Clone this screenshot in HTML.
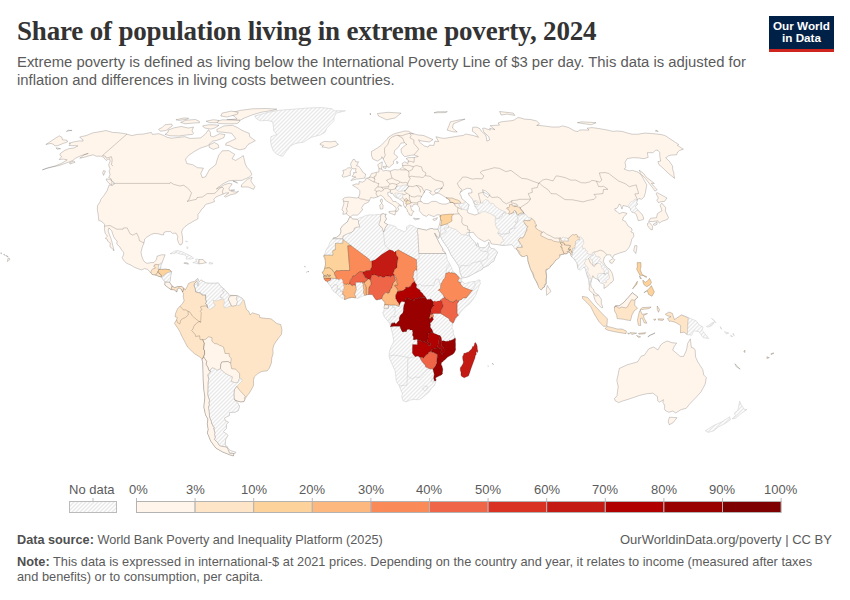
<!DOCTYPE html>
<html><head><meta charset="utf-8">
<style>
html,body{margin:0;padding:0;background:#fff;width:850px;height:600px;overflow:hidden;}
body{position:relative;font-family:"Liberation Sans",sans-serif;}
.t{position:absolute;white-space:nowrap;}
#title{left:17px;top:16px;font-family:"Liberation Serif",serif;font-weight:bold;font-size:27px;color:#333;letter-spacing:-0.18px;}
#sub{left:17px;top:54px;font-size:14.85px;color:#5b5b5b;line-height:17.8px;}
#logo{position:absolute;left:769px;top:16px;width:65px;height:33px;background:#002147;border-bottom:3px solid #ce261e;color:#fff;font-weight:bold;font-size:11.7px;line-height:12.3px;text-align:center;}
#logo div{padding-top:4px;letter-spacing:0px}
.lg{position:absolute;font-size:13px;color:#5b5b5b;margin-top:-0.7px}
#foot1{left:17px;top:533px;font-size:12.7px;color:#5b5b5b;}
#foot2{left:17px;top:553.5px;font-size:12.8px;color:#5b5b5b;line-height:15.5px;}
b{color:#4f4f4f}
</style></head><body>
<div class="t" id="title">Share of population living in extreme poverty, 2024</div>
<div class="t" id="sub">Extreme poverty is defined as living below the International Poverty Line of $3 per day. This data is adjusted for<br>inflation and differences in living costs between countries.</div>
<div id="logo"><div>Our World<br>in Data</div></div>
<svg id="map" width="850" height="600" style="position:absolute;left:0;top:0">
<defs><pattern id="hatch" patternUnits="userSpaceOnUse" width="4" height="4"><rect width="4" height="4" fill="#fff"/><path d="M-1,1 L1,-1 M0,4 L4,0 M3,5 L5,3" stroke="#e9e9e9" stroke-width="1.4"/></pattern></defs>
<path d="M68.9,143.2 L74.2,141.8 L79.5,140.9 L83.0,141.1 L83.1,139.8 L81.2,138.7 L79.7,137.0 L86.4,135.5 L92.7,132.9 L100.6,131.6 L105.8,130.5 L109.1,131.4 L112.5,132.4 L117.9,132.7 L122.8,133.3 L126.9,134.1 L131.7,135.6 L137.3,134.4 L143.7,134.0 L148.0,133.1 L151.3,132.4 L152.4,134.4 L158.9,133.7 L163.8,135.5 L167.1,137.3 L171.4,138.2 L179.0,137.3 L184.7,136.7 L189.9,138.4 L196.1,138.2 L200.7,137.8 L205.1,134.4 L208.5,129.7 L210.3,132.2 L210.6,136.0 L213.3,136.9 L219.8,133.7 L225.0,134.6 L223.7,137.8 L216.6,140.5 L212.7,141.1 L207.7,145.7 L200.7,148.0 L195.0,151.1 L189.0,155.1 L185.5,159.1 L186.7,163.5 L192.6,164.7 L197.5,167.7 L203.4,168.1 L200.8,173.6 L202.2,177.6 L205.5,176.9 L209.4,169.6 L215.8,164.7 L217.1,159.9 L218.8,155.1 L222.3,150.8 L228.7,150.6 L232.1,152.7 L234.8,154.4 L232.1,158.7 L235.6,160.4 L240.7,157.4 L243.3,155.5 L244.3,159.9 L245.3,164.0 L246.9,167.2 L250.3,170.9 L251.9,174.6 L249.1,177.1 L242.0,180.4 L233.9,180.4 L228.7,180.9 L223.8,183.4 L218.4,187.2 L216.3,189.0 L220.4,187.2 L224.4,184.7 L229.0,183.2 L232.1,183.9 L230.3,186.5 L228.9,188.0 L229.4,190.3 L232.3,191.6 L236.3,192.1 L238.6,191.3 L235.8,193.6 L230.2,194.9 L225.4,197.2 L224.4,196.2 L228.8,192.8 L225.6,193.1 L223.2,194.1 L219.7,195.4 L216.0,197.0 L213.8,199.3 L214.6,201.6 L211.0,202.9 L206.3,204.2 L204.9,205.2 L204.1,207.0 L201.5,209.4 L200.2,211.7 L198.0,214.3 L198.0,217.5 L197.7,219.0 L194.5,220.6 L191.4,222.4 L188.4,224.2 L184.9,226.6 L182.5,229.5 L181.6,232.1 L182.5,236.8 L182.7,241.7 L182.0,244.1 L180.0,245.1 L178.6,242.8 L177.3,239.1 L177.8,236.5 L176.0,233.1 L172.6,233.4 L170.4,231.6 L166.0,231.6 L163.9,232.6 L163.6,234.9 L161.2,234.7 L158.7,233.9 L154.4,233.4 L151.3,234.4 L146.9,237.0 L144.7,239.1 L144.0,243.0 L142.3,247.0 L141.0,252.2 L141.6,255.6 L143.2,260.0 L144.8,262.1 L147.1,263.4 L150.9,262.6 L153.8,262.6 L156.2,260.0 L157.2,256.1 L161.7,254.8 L165.1,254.8 L163.6,258.7 L162.0,262.9 L160.8,265.2 L160.6,268.4 L158.9,269.4 L161.4,269.4 L165.6,269.2 L169.4,269.7 L171.7,271.8 L170.7,275.7 L170.4,279.6 L169.5,282.2 L171.1,284.8 L174.4,287.7 L177.9,286.7 L181.4,286.4 L183.8,288.2 L182.5,291.9 L181.5,289.5 L179.0,287.7 L177.1,289.3 L176.8,291.9 L174.3,289.8 L171.1,289.5 L169.5,288.5 L164.9,285.1 L165.1,282.0 L162.8,279.1 L161.2,277.0 L158.5,276.2 L155.6,274.9 L152.6,274.6 L150.9,273.1 L147.5,269.4 L144.6,268.6 L141.4,269.9 L137.1,268.4 L134.1,267.1 L130.7,265.0 L126.4,263.2 L123.4,260.0 L122.2,257.7 L123.6,254.8 L123.6,252.2 L121.9,250.4 L119.4,246.4 L116.8,244.1 L117.1,241.2 L115.0,238.9 L113.6,236.5 L112.7,233.9 L111.7,230.8 L108.9,227.9 L108.2,231.3 L109.8,235.5 L110.9,238.3 L112.1,242.3 L112.9,246.2 L113.5,248.0 L113.9,250.9 L113.4,249.6 L109.9,246.7 L110.3,243.0 L107.7,241.2 L107.1,239.1 L105.3,238.3 L107.4,236.3 L105.1,233.1 L104.4,228.7 L104.5,226.1 L104.6,224.5 L102.9,222.4 L101.0,221.1 L98.8,220.6 L98.4,216.9 L98.0,213.0 L97.6,211.7 L97.3,208.6 L97.6,205.5 L100.0,201.9 L100.9,199.3 L104.4,194.9 L107.1,190.6 L109.2,184.9 L112.3,185.5 L114.3,183.9 L113.6,183.4 L113.8,182.1 L111.6,180.9 L111.2,178.9 L108.7,177.6 L110.1,174.6 L109.1,170.9 L110.1,168.9 L109.3,167.2 L108.7,164.7 L110.1,161.1 L109.6,158.7 L106.1,160.4 L105.2,159.4 L103.5,157.2 L100.8,156.2 L96.2,156.2 L93.1,154.8 L87.8,156.2 L83.8,157.4 L79.7,158.2 L84.6,154.6 L88.3,153.4 L81.3,155.5 L75.6,158.2 L72.6,160.6 L66.9,162.8 L59.2,165.5 L51.6,167.2 L46.1,168.6 L42.3,169.9 L48.1,167.7 L54.9,166.0 L61.2,163.5 L67.2,159.9 L63.4,159.1 L59.1,159.6 L61.7,156.5 L59.8,155.1 L60.7,153.2 L64.8,150.4 L68.7,148.7 L74.0,148.0 L77.9,145.9 L75.1,145.7 L71.6,145.7 L68.9,145.4 L70.5,143.8Z" fill="#fff5eb" stroke="rgba(0,0,0,0.36)" stroke-width="0.5"/>
<path d="M183.8,288.2 L185.2,290.1 L187.1,286.7 L188.5,283.5 L190.9,282.2 L194.4,281.4 L197.6,278.4 L198.6,280.1 L197.3,282.5 L197.3,286.1 L198.7,285.6 L198.9,282.2 L200.9,279.9 L202.5,280.9 L205.8,283.0 L209.2,283.3 L215.0,283.3 L218.4,283.0 L219.5,284.8 L221.7,287.4 L223.9,288.8 L227.3,292.7 L229.5,295.3 L235.3,295.5 L238.0,296.1 L242.1,298.2 L244.2,300.8 L245.5,306.2 L246.6,309.6 L248.9,311.5 L250.1,314.9 L252.4,312.8 L259.4,314.9 L259.8,317.5 L265.2,318.3 L271.0,318.8 L273.3,320.6 L276.8,323.5 L280.7,324.5 L282.0,329.8 L281.4,334.5 L278.3,338.4 L276.1,341.5 L273.9,344.9 L272.9,348.8 L273.1,353.5 L271.8,358.0 L271.4,362.9 L269.4,368.1 L267.3,370.8 L261.7,371.5 L257.8,373.6 L254.3,377.0 L253.5,380.2 L253.5,385.6 L251.3,389.8 L249.2,393.2 L247.1,395.8 L245.0,399.0 L243.9,401.6 L240.3,401.8 L237.7,401.1 L234.5,400.0 L237.7,403.1 L239.4,406.0 L238.4,410.4 L235.7,412.0 L229.4,412.5 L229.4,415.4 L224.4,418.0 L225.3,420.8 L228.4,422.1 L226.3,424.4 L226.4,428.3 L223.4,431.6 L228.0,435.3 L225.7,439.2 L225.0,445.0 L227.5,446.9 L227.2,447.5 L230.2,450.5 L236.1,452.5 L233.8,453.5 L233.4,455.9 L229.5,454.7 L222.4,451.8 L215.8,448.0 L210.7,441.0 L208.7,435.9 L207.3,432.9 L208.3,429.6 L207.3,423.9 L207.9,419.2 L205.6,414.9 L203.9,407.0 L204.5,401.1 L204.9,397.1 L203.8,389.0 L203.3,381.5 L203.1,372.6 L202.8,363.7 L202.1,359.3 L199.6,356.9 L194.2,353.5 L187.5,347.0 L185.1,342.3 L181.1,334.7 L180.1,332.1 L177.6,327.9 L174.4,323.2 L176.4,320.1 L177.3,317.5 L175.0,316.7 L175.6,313.4 L177.2,309.6 L177.9,308.3 L180.0,306.2 L182.2,303.9 L184.1,300.8 L183.2,296.6 L183.6,294.0 L182.5,292.1Z" fill="#fee5c7" stroke="rgba(0,0,0,0.36)" stroke-width="0.5"/>
<path d="M349.5,217.5 L350.8,217.2 L352.7,219.0 L357.5,219.3 L359.7,217.7 L362.3,217.2 L365.5,215.6 L368.8,214.9 L373.1,214.9 L379.2,214.5 L380.9,214.5 L383.4,213.6 L384.6,214.3 L386.2,214.2 L385.1,216.2 L386.0,218.0 L386.5,219.0 L384.8,221.4 L384.4,222.7 L386.7,224.0 L387.5,224.4 L390.9,225.0 L395.8,226.6 L396.5,228.7 L401.0,230.2 L404.2,231.8 L406.8,230.0 L406.4,226.9 L409.6,225.0 L412.9,225.8 L415.2,227.4 L417.8,228.4 L423.1,229.5 L426.5,230.2 L428.6,229.2 L431.9,228.4 L433.7,229.2 L437.9,229.2 L439.9,233.9 L439.1,237.0 L438.7,238.3 L437.3,237.0 L434.7,232.9 L434.9,234.4 L436.4,237.3 L438.3,241.2 L440.4,245.1 L442.6,248.5 L445.8,253.5 L446.7,256.1 L447.1,259.8 L449.8,263.9 L451.2,267.1 L452.2,269.4 L453.2,271.5 L456.1,273.9 L458.0,275.7 L460.4,278.0 L461.8,278.6 L461.8,279.9 L460.7,280.9 L462.1,281.4 L465.0,283.8 L467.7,282.7 L471.6,281.7 L475.5,281.4 L478.4,279.9 L480.2,280.1 L479.9,282.2 L480.6,283.8 L479.5,284.8 L477.8,289.8 L475.7,295.3 L473.2,299.2 L470.0,303.4 L467.1,305.7 L464.1,308.1 L460.6,312.0 L458.5,315.4 L456.9,317.0 L455.0,319.6 L454.1,321.7 L452.9,323.2 L451.9,327.9 L453.4,330.5 L453.1,333.1 L455.3,338.4 L455.3,343.6 L455.4,348.0 L455.5,350.1 L453.7,353.5 L447.6,357.2 L444.7,360.0 L441.4,362.7 L442.1,366.3 L442.6,368.9 L442.4,373.1 L441.2,375.2 L436.5,377.3 L435.5,378.9 L436.0,381.2 L434.6,385.4 L431.9,387.7 L428.6,392.4 L425.1,395.3 L421.5,398.4 L418.6,399.7 L413.8,399.5 L410.4,400.0 L406.0,401.8 L402.8,400.5 L402.6,399.5 L401.7,396.4 L402.5,393.7 L400.7,389.8 L399.1,385.6 L396.3,381.5 L395.8,376.2 L395.1,370.8 L392.7,365.5 L389.6,358.7 L389.1,356.0 L389.3,352.2 L390.7,347.5 L393.8,341.5 L392.7,334.5 L390.7,326.9 L390.5,326.1 L389.8,323.7 L387.9,321.1 L384.5,317.2 L382.7,313.0 L383.8,310.9 L384.3,308.3 L385.0,305.2 L385.2,303.1 L384.7,300.5 L381.9,298.9 L378.5,299.5 L376.2,299.7 L373.8,296.6 L372.4,294.5 L368.5,294.2 L366.0,294.8 L365.1,295.0 L361.1,296.8 L357.7,298.4 L355.1,297.6 L351.9,297.4 L348.4,298.4 L345.0,299.5 L341.5,297.9 L337.4,294.5 L335.7,292.9 L333.4,291.4 L331.6,288.8 L331.6,287.4 L330.7,286.1 L328.5,283.3 L327.5,282.2 L326.4,280.7 L323.9,278.7 L323.7,276.5 L323.9,274.9 L322.9,273.1 L322.2,272.6 L323.6,270.7 L324.6,268.6 L325.5,265.2 L325.8,262.6 L325.4,260.0 L324.8,258.7 L323.6,256.6 L325.4,252.2 L326.4,249.1 L328.5,246.4 L329.7,242.8 L332.6,238.9 L333.5,238.0 L336.6,237.3 L340.0,234.7 L341.0,231.6 L340.6,228.7 L342.5,225.8 L345.6,223.2 L347.4,221.9 L348.5,219.5Z" fill="url(#hatch)" stroke="#c9c9c9" stroke-width="0.5"/>
<path d="M350.1,216.9 L348.6,215.6 L346.3,213.8 L342.8,214.3 L343.4,211.2 L341.9,209.9 L343.4,205.2 L343.9,203.4 L343.5,201.1 L342.8,199.0 L344.7,197.7 L347.7,197.2 L350.4,197.2 L356.2,198.0 L358.5,197.7 L359.8,193.6 L359.8,190.6 L357.8,188.5 L352.5,185.2 L356.2,183.9 L359.0,184.2 L359.1,181.6 L362.7,182.1 L365.3,180.4 L365.9,178.4 L367.3,178.1 L369.4,177.4 L371.5,173.6 L375.8,172.4 L378.9,171.9 L378.9,168.4 L377.7,164.7 L380.3,163.0 L382.3,161.8 L382.0,165.5 L381.6,168.4 L382.1,169.9 L383.5,170.9 L385.8,170.4 L390.2,171.1 L394.3,169.6 L398.4,169.9 L401.0,168.6 L402.8,166.7 L402.2,163.5 L404.7,161.8 L408.0,163.5 L408.3,160.4 L406.1,158.7 L408.2,157.7 L414.3,157.4 L418.3,156.5 L414.7,155.1 L411.9,155.1 L408.4,155.8 L404.9,156.7 L403.3,155.3 L401.4,152.7 L401.0,149.0 L405.5,145.0 L406.9,144.5 L404.5,142.7 L400.9,143.2 L398.4,147.3 L394.7,150.4 L394.0,153.9 L397.2,156.2 L397.4,157.9 L393.3,161.1 L393.6,163.5 L391.0,165.7 L389.2,167.4 L387.3,166.9 L386.1,164.7 L384.7,161.8 L383.2,159.1 L381.9,156.7 L381.3,158.7 L377.3,161.1 L372.7,158.9 L371.5,155.3 L371.4,151.5 L374.0,150.1 L376.6,148.5 L380.8,145.7 L384.0,142.3 L387.0,139.3 L388.6,137.1 L391.7,135.1 L393.8,134.0 L397.1,132.9 L401.1,132.0 L404.6,131.0 L408.3,131.2 L412.2,133.3 L417.6,134.9 L423.7,135.5 L433.0,139.6 L429.2,142.0 L421.0,140.9 L418.6,139.8 L419.7,142.3 L424.2,145.9 L428.1,147.1 L429.3,145.2 L433.8,145.4 L434.9,141.1 L438.6,141.6 L435.9,136.7 L440.5,137.8 L444.2,138.4 L452.1,137.1 L460.0,135.8 L463.2,135.5 L465.7,134.0 L473.3,135.5 L478.5,137.3 L475.4,133.3 L472.3,131.2 L472.8,127.2 L476.8,127.2 L479.8,128.6 L481.3,131.2 L485.2,134.4 L486.5,137.8 L486.8,141.1 L489.6,140.0 L488.8,136.7 L486.1,134.4 L483.6,131.6 L482.6,128.4 L483.9,128.0 L487.1,129.1 L490.4,130.1 L489.7,128.2 L494.9,129.7 L490.2,125.7 L495.3,125.3 L499.5,125.1 L498.0,123.0 L501.4,121.8 L508.2,121.0 L512.4,120.6 L514.5,119.8 L518.0,117.5 L521.3,118.1 L524.1,119.1 L530.7,119.5 L536.7,121.0 L539.5,123.8 L536.7,125.5 L539.8,125.5 L543.5,125.9 L551.9,127.0 L559.1,127.0 L562.6,125.9 L568.4,127.4 L574.4,130.8 L577.9,131.6 L579.3,130.1 L582.3,129.9 L589.1,130.1 L587.2,128.2 L592.0,127.6 L598.0,128.4 L606.7,129.9 L613.0,131.4 L616.5,131.0 L622.1,131.4 L628.4,133.3 L632.1,134.2 L637.9,134.2 L642.0,133.5 L645.5,133.1 L652.0,133.5 L656.8,134.0 L661.2,134.6 L665.0,135.5 L678.7,144.5 L677.4,145.4 L683.4,149.2 L679.6,150.4 L677.6,152.2 L676.5,154.8 L671.3,155.1 L668.5,155.8 L667.1,157.0 L665.7,157.7 L669.6,161.6 L670.8,163.5 L672.6,166.0 L672.7,169.6 L673.9,172.9 L673.9,174.9 L674.6,178.4 L669.0,173.9 L663.3,168.4 L659.0,164.7 L657.9,161.6 L660.6,161.1 L659.8,156.2 L659.7,152.5 L658.0,150.4 L655.9,150.1 L653.7,152.0 L652.8,152.7 L647.3,152.7 L648.2,157.4 L643.9,158.7 L638.5,157.9 L632.7,157.7 L627.1,158.7 L625.0,162.3 L625.9,167.2 L624.2,169.1 L629.1,170.9 L632.6,170.4 L638.0,172.1 L641.8,175.9 L644.5,180.9 L646.8,184.7 L646.1,188.8 L645.5,192.3 L644.2,196.7 L641.6,199.3 L638.8,198.5 L637.1,200.3 L636.6,202.7 L637.5,204.2 L635.3,206.5 L634.5,207.0 L638.4,210.7 L642.1,214.3 L643.3,216.9 L643.6,219.3 L640.7,220.3 L638.2,220.6 L637.6,218.2 L636.2,214.3 L633.8,212.5 L632.3,212.5 L630.7,210.4 L630.1,207.8 L627.4,206.5 L623.0,205.5 L622.0,209.1 L620.3,204.5 L619.1,204.2 L618.2,206.5 L616.9,208.3 L614.9,208.6 L615.0,210.4 L617.3,211.7 L619.3,213.8 L622.5,212.3 L626.9,213.3 L626.2,214.6 L623.6,216.9 L622.5,220.1 L625.4,221.4 L628.2,226.1 L631.4,228.2 L632.2,230.2 L630.8,231.8 L633.4,232.9 L633.8,236.5 L631.8,239.1 L630.9,243.0 L629.5,246.7 L627.6,249.3 L625.7,251.1 L620.7,252.7 L618.2,253.5 L613.9,255.1 L612.6,257.9 L610.9,256.1 L610.5,254.8 L607.1,254.8 L604.5,256.9 L603.2,261.3 L605.3,265.2 L608.1,268.4 L609.8,269.2 L612.1,273.1 L612.9,275.7 L613.6,280.1 L612.0,282.2 L609.8,283.5 L607.7,286.1 L603.9,288.5 L604.2,284.8 L602.9,283.5 L599.2,280.9 L597.4,279.1 L594.3,278.0 L592.9,275.7 L592.0,278.3 L590.7,283.5 L591.1,286.9 L593.3,289.0 L594.2,291.6 L595.4,293.2 L598.3,294.8 L601.3,299.2 L601.4,303.6 L602.9,307.6 L601.5,307.6 L598.7,305.2 L595.3,301.0 L594.0,296.8 L593.4,294.0 L589.2,290.1 L589.3,286.1 L589.3,284.0 L588.7,279.6 L587.2,275.7 L586.5,273.1 L585.4,267.9 L582.1,267.1 L579.7,269.7 L577.8,267.9 L576.9,262.6 L575.0,260.0 L572.3,257.4 L571.4,255.6 L570.1,252.7 L568.2,252.2 L567.2,253.5 L563.9,254.0 L561.7,254.5 L559.5,256.6 L555.6,260.0 L552.3,264.7 L548.6,268.4 L546.1,270.5 L546.6,276.7 L546.1,284.0 L544.4,286.7 L541.1,289.8 L537.8,284.8 L535.9,280.9 L534.1,277.5 L531.9,272.3 L529.7,266.6 L528.0,261.3 L527.8,257.4 L526.8,254.8 L526.4,252.7 L524.5,256.1 L521.1,256.1 L518.4,252.4 L517.0,249.6 L513.2,246.2 L511.9,244.6 L507.4,244.9 L502.5,245.4 L497.2,244.6 L492.7,244.1 L491.0,243.6 L490.0,240.4 L488.3,239.9 L484.5,241.7 L478.5,238.3 L475.5,235.2 L473.3,232.3 L468.9,232.6 L469.2,235.2 L470.8,237.8 L473.2,240.4 L475.0,242.5 L476.7,246.2 L477.5,242.8 L478.4,245.1 L478.6,247.0 L481.8,248.0 L485.2,247.7 L488.2,244.4 L488.8,242.3 L489.1,245.9 L490.9,248.3 L494.6,249.3 L497.6,252.2 L495.1,257.4 L493.6,261.3 L491.7,262.1 L488.9,265.0 L485.6,266.6 L482.3,268.1 L481.3,269.7 L474.6,273.1 L470.1,275.7 L465.6,277.5 L462.2,277.8 L460.2,273.1 L460.0,270.5 L459.1,266.6 L455.6,261.3 L451.9,256.1 L451.1,254.8 L448.0,248.3 L446.1,245.7 L444.3,243.0 L441.7,239.1 L440.0,233.9 L437.9,229.2 L439.1,226.1 L440.0,222.2 L440.5,218.5 L440.2,214.9 L436.9,214.9 L433.9,216.7 L428.7,214.6 L426.3,216.4 L422.9,214.9 L421.2,213.0 L419.2,210.4 L419.6,207.8 L418.2,206.5 L417.5,204.5 L415.3,204.2 L413.3,204.7 L412.4,206.5 L410.4,205.7 L411.1,208.3 L411.7,210.4 L413.9,211.2 L412.4,213.3 L411.7,215.6 L409.2,214.9 L408.9,213.0 L407.7,212.0 L406.9,209.1 L405.0,207.3 L403.6,205.2 L403.5,202.7 L402.4,201.4 L399.9,199.3 L397.9,198.3 L395.5,197.2 L393.5,194.9 L392.3,193.1 L390.9,193.9 L390.6,191.8 L387.7,192.6 L388.1,195.7 L390.5,197.2 L392.9,201.4 L396.1,201.6 L398.1,203.7 L400.6,205.0 L401.7,206.3 L398.9,205.5 L397.8,207.6 L398.9,209.1 L396.7,212.0 L395.8,211.2 L396.1,207.8 L392.4,204.5 L388.3,202.1 L385.4,200.1 L383.8,197.5 L380.8,195.2 L377.5,197.0 L373.6,198.0 L370.7,197.5 L369.0,201.6 L366.9,202.9 L364.2,203.9 L361.6,207.8 L362.7,209.9 L361.2,210.9 L360.1,212.8 L357.5,215.1 L352.8,215.1 L350.6,216.7Z" fill="#fff5eb" stroke="rgba(0,0,0,0.36)" stroke-width="0.5"/>
<path d="M254.7,116.0 L268.1,112.3 L278.5,110.3 L293.2,109.2 L307.8,108.0 L321.6,107.5 L332.1,108.8 L334.2,110.8 L345.4,110.8 L336.4,113.1 L334.1,117.0 L333.9,120.8 L330.9,123.8 L326.9,128.0 L325.1,132.2 L320.4,134.9 L311.4,137.3 L303.2,142.3 L295.8,143.4 L290.7,145.7 L286.2,151.5 L282.8,156.2 L280.2,155.8 L276.3,153.9 L273.0,150.4 L271.3,145.7 L270.6,141.1 L270.9,136.7 L277.0,134.4 L274.7,132.2 L273.4,130.1 L273.5,127.0 L272.6,121.8 L267.5,120.4 L260.3,120.8 L256.6,118.9Z" fill="url(#hatch)" stroke="#c9c9c9" stroke-width="0.5"/>
<path d="M255.3,140.7 L248.0,144.5 L245.0,148.7 L239.9,149.9 L233.8,148.0 L229.8,145.7 L225.6,145.2 L226.1,143.2 L235.9,138.7 L234.4,136.9 L231.7,133.3 L222.7,132.2 L217.2,131.8 L216.8,129.5 L224.0,125.9 L232.5,125.3 L237.2,127.4 L241.6,130.1 L245.3,131.8 L249.2,133.3 L249.8,136.7Z" fill="#fff5eb" stroke="rgba(0,0,0,0.36)" stroke-width="0.5"/>
<path d="M192.5,134.4 L185.2,135.1 L179.4,136.0 L170.3,135.8 L164.9,134.4 L168.1,132.2 L168.1,130.1 L174.1,127.8 L181.2,126.5 L188.4,128.0 L193.5,127.0 L192.0,130.8 L193.5,133.3Z" fill="#fff5eb" stroke="rgba(0,0,0,0.36)" stroke-width="0.5"/>
<path d="M158.6,129.3 L160.3,131.2 L166.0,130.5 L172.4,125.9 L171.5,124.0 L164.9,124.8 L162.3,127.4Z" fill="#fff5eb" stroke="rgba(0,0,0,0.36)" stroke-width="0.5"/>
<path d="M240.2,120.2 L244.7,117.9 L251.9,115.0 L261.0,112.3 L272.9,110.3 L276.8,109.1 L266.4,108.5 L252.4,108.8 L240.8,110.3 L232.5,112.3 L232.2,115.0 L234.9,116.6 L237.0,118.9 L226.8,119.8Z" fill="#fff5eb" stroke="rgba(0,0,0,0.36)" stroke-width="0.5"/>
<path d="M227.1,117.0 L220.8,116.0 L222.1,113.1 L231.3,111.1 L238.2,112.3 L237.6,114.1Z" fill="#fff5eb" stroke="rgba(0,0,0,0.36)" stroke-width="0.5"/>
<path d="M237.0,123.6 L229.0,123.8 L219.0,123.6 L215.7,121.6 L222.3,119.8 L231.2,120.0 L240.0,120.4 L239.0,122.2Z" fill="#fff5eb" stroke="rgba(0,0,0,0.36)" stroke-width="0.5"/>
<path d="M210.7,129.1 L204.5,128.0 L202.6,125.9 L208.3,124.8 L213.9,124.8 L219.0,125.3 L214.9,128.0Z" fill="#fff5eb" stroke="rgba(0,0,0,0.36)" stroke-width="0.5"/>
<path d="M199.5,122.7 L193.8,123.0 L185.1,123.8 L180.6,122.4 L186.0,120.2 L195.4,119.5 L199.2,121.2Z" fill="#fff5eb" stroke="rgba(0,0,0,0.36)" stroke-width="0.5"/>
<path d="M217.4,122.7 L209.6,122.7 L206.1,121.2 L213.4,119.7 L218.6,120.4Z" fill="#fff5eb" stroke="rgba(0,0,0,0.36)" stroke-width="0.5"/>
<path d="M186.6,119.3 L178.8,120.4 L175.9,119.8 L184.0,117.9 L188.7,118.3Z" fill="#fff5eb" stroke="rgba(0,0,0,0.36)" stroke-width="0.5"/>
<path d="M218.9,147.5 L213.2,149.4 L209.2,147.3 L209.0,145.0 L214.3,142.5 L218.1,144.5Z" fill="#fff5eb" stroke="rgba(0,0,0,0.36)" stroke-width="0.5"/>
<path d="M241.3,187.0 L248.1,187.0 L253.6,189.3 L254.9,186.5 L253.4,184.7 L250.8,180.9 L252.1,177.1 L247.3,179.4 L241.6,184.7Z" fill="#fff5eb" stroke="rgba(0,0,0,0.36)" stroke-width="0.5"/>
<path d="M112.1,184.9 L109.4,183.7 L106.8,180.9 L106.2,178.9 L110.4,179.4 L111.9,181.4Z" fill="#fff5eb" stroke="rgba(0,0,0,0.36)" stroke-width="0.5"/>
<path d="M103.6,175.4 L102.6,172.9 L103.5,170.6 L105.4,171.1Z" fill="#fff5eb" stroke="rgba(0,0,0,0.36)" stroke-width="0.5"/>
<path d="M75.2,162.1 L73.4,161.1 L69.4,162.8 L70.1,164.0Z" fill="#fff5eb" stroke="rgba(0,0,0,0.36)" stroke-width="0.5"/>
<path d="M232.9,181.1 L237.6,183.2 L236.4,181.9Z" fill="#fff5eb" stroke="rgba(0,0,0,0.36)" stroke-width="0.5"/>
<path d="M230.7,190.0 L234.8,190.0 L231.6,190.6Z" fill="#fff5eb" stroke="rgba(0,0,0,0.36)" stroke-width="0.5"/>
<path d="M60.6,148.7 L55.9,147.8 L57.3,149.2Z" fill="#fff5eb" stroke="rgba(0,0,0,0.36)" stroke-width="0.5"/>
<path d="M9.8,259.8 L7.3,261.5 L8.1,258.2 L9.4,258.2Z" fill="#fff5eb" stroke="rgba(0,0,0,0.36)" stroke-width="0.5"/>
<path d="M8.1,257.1 L6.7,256.4 L7.7,256.1Z" fill="#fff5eb" stroke="rgba(0,0,0,0.36)" stroke-width="0.5"/>
<path d="M4.7,255.3 L3.6,254.5 L4.5,254.3Z" fill="#fff5eb" stroke="rgba(0,0,0,0.36)" stroke-width="0.5"/>
<path d="M6.2,255.8 L5.6,255.6 L6.7,255.6Z" fill="#fff5eb" stroke="rgba(0,0,0,0.36)" stroke-width="0.5"/>
<path d="M1.5,253.8 L0.5,253.2 L1.5,252.8Z" fill="#fff5eb" stroke="rgba(0,0,0,0.36)" stroke-width="0.5"/>
<path d="M59.2,135.8 L61.9,137.3 L62.5,139.8 L67.0,140.2 L67.5,142.0 L63.3,143.4 L57.5,145.7 L54.9,145.9 L53.7,144.5 L51.0,143.4 L45.8,144.5Z" fill="#fff5eb" stroke="rgba(0,0,0,0.36)" stroke-width="0.5"/>
<path d="M66.4,131.4 L71.9,130.1 L71.6,130.8 L68.6,130.1Z" fill="#fff5eb" stroke="rgba(0,0,0,0.36)" stroke-width="0.5"/>
<path d="M170.0,253.8 L174.7,251.1 L178.1,250.6 L182.5,251.9 L186.7,254.0 L190.6,255.8 L193.7,258.2 L190.7,259.0 L186.1,259.0 L187.0,256.9 L184.4,254.8 L179.9,254.0 L176.7,252.7 L172.0,253.8Z" fill="url(#hatch)" stroke="#c9c9c9" stroke-width="0.5"/>
<path d="M192.8,262.6 L196.6,263.4 L198.8,263.9 L199.2,259.5 L196.8,259.0 L195.3,259.8 L197.0,261.3Z" fill="url(#hatch)" stroke="#c9c9c9" stroke-width="0.5"/>
<path d="M198.8,263.9 L202.7,263.4 L206.4,262.6 L204.1,261.1 L203.1,259.5 L199.2,259.5Z" fill="#fff5eb" stroke="rgba(0,0,0,0.36)" stroke-width="0.5"/>
<path d="M183.8,263.2 L188.5,264.2 L187.7,262.9 L185.0,262.6Z" fill="#fff5eb" stroke="rgba(0,0,0,0.36)" stroke-width="0.5"/>
<path d="M209.2,262.6 L212.8,262.9 L212.5,263.9 L209.1,263.9Z" fill="url(#hatch)" stroke="#c9c9c9" stroke-width="0.5"/>
<path d="M186.8,246.7 L187.2,248.8 L188.2,247.5Z" fill="url(#hatch)" stroke="#c9c9c9" stroke-width="0.5"/>
<path d="M185.4,241.2 L187.6,241.5 L186.2,241.7Z" fill="url(#hatch)" stroke="#c9c9c9" stroke-width="0.5"/>
<path d="M350.9,180.6 L356.3,179.1 L364.9,178.1 L365.6,174.1 L362.9,172.4 L361.3,169.6 L359.2,166.9 L358.5,166.0 L356.5,166.0 L358.5,161.8 L355.7,161.8 L354.8,159.6 L352.9,159.6 L351.5,162.3 L350.5,164.0 L351.5,167.7 L353.0,168.9 L356.1,168.6 L355.5,170.9 L356.4,172.6 L353.3,172.6 L354.0,173.9 L352.0,176.4 L355.9,177.1 L353.5,177.9Z" fill="#fff5eb" stroke="rgba(0,0,0,0.36)" stroke-width="0.5"/>
<path d="M350.4,175.4 L350.2,171.9 L351.6,169.4 L350.3,167.7 L347.8,167.9 L345.8,169.6 L342.8,170.4 L343.7,173.1 L341.9,176.1 L343.4,177.1 L346.4,176.6 L349.7,175.4Z" fill="#fff5eb" stroke="rgba(0,0,0,0.36)" stroke-width="0.5"/>
<path d="M320.3,143.4 L324.2,141.4 L331.1,141.8 L335.5,141.1 L336.9,143.4 L338.4,144.3 L335.7,146.1 L328.9,148.3 L324.9,147.3 L321.9,147.1 L323.5,145.4 L320.1,144.7Z" fill="#fff5eb" stroke="rgba(0,0,0,0.36)" stroke-width="0.5"/>
<path d="M382.0,198.8 L382.5,201.1 L381.8,202.9 L380.4,201.6 L380.4,199.8Z" fill="#fff5eb" stroke="rgba(0,0,0,0.36)" stroke-width="0.5"/>
<path d="M381.8,203.4 L383.1,205.2 L382.8,208.9 L380.3,209.1 L379.7,205.2Z" fill="#fff5eb" stroke="rgba(0,0,0,0.36)" stroke-width="0.5"/>
<path d="M389.0,211.5 L395.8,210.9 L395.0,215.1 L389.0,212.8Z" fill="#fff5eb" stroke="rgba(0,0,0,0.36)" stroke-width="0.5"/>
<path d="M413.4,218.2 L419.6,218.8 L415.1,219.8Z" fill="#fff5eb" stroke="rgba(0,0,0,0.36)" stroke-width="0.5"/>
<path d="M432.7,219.3 L437.5,217.7 L436.3,219.8 L434.2,220.6Z" fill="#fff5eb" stroke="rgba(0,0,0,0.36)" stroke-width="0.5"/>
<path d="M378.5,116.0 L386.6,119.8 L395.2,117.9 L401.1,113.1 L388.0,112.3 L377.4,113.5Z" fill="#fff5eb" stroke="rgba(0,0,0,0.36)" stroke-width="0.5"/>
<path d="M447.1,130.1 L452.9,131.8 L457.2,132.0 L452.5,128.0 L453.3,123.8 L458.1,121.8 L465.1,119.1 L459.7,119.8 L450.4,121.8 L448.9,125.9Z" fill="#fff5eb" stroke="rgba(0,0,0,0.36)" stroke-width="0.5"/>
<path d="M501.2,115.0 L507.3,114.1 L514.8,115.4 L513.3,113.1 L499.6,111.5Z" fill="#fff5eb" stroke="rgba(0,0,0,0.36)" stroke-width="0.5"/>
<path d="M577.3,122.7 L581.8,121.8 L596.0,122.7 L591.2,124.8Z" fill="#fff5eb" stroke="rgba(0,0,0,0.36)" stroke-width="0.5"/>
<path d="M655.4,131.2 L656.0,130.1 L658.2,131.4Z" fill="#fff5eb" stroke="rgba(0,0,0,0.36)" stroke-width="0.5"/>
<path d="M434.0,112.8 L445.3,112.6 L447.3,111.7 L437.4,111.7Z" fill="#fff5eb" stroke="rgba(0,0,0,0.36)" stroke-width="0.5"/>
<path d="M654.9,191.1 L657.1,189.8 L651.4,183.4 L654.4,183.4 L646.2,177.1 L643.6,173.4 L639.2,170.1 L640.4,173.4 L645.3,178.4 L652.1,187.2Z" fill="#fff5eb" stroke="rgba(0,0,0,0.36)" stroke-width="0.5"/>
<path d="M658.4,202.7 L660.4,201.9 L664.5,201.4 L667.0,198.0 L663.7,196.2 L657.1,192.6 L656.0,193.6 L658.4,198.0 L656.8,200.1Z" fill="#fff5eb" stroke="rgba(0,0,0,0.36)" stroke-width="0.5"/>
<path d="M648.6,221.4 L650.7,218.2 L656.5,217.7 L657.4,213.6 L662.0,210.7 L660.1,205.2 L661.9,203.2 L665.8,207.8 L665.3,210.9 L667.1,214.6 L668.5,217.7 L667.3,219.5 L665.0,220.3 L661.7,221.4 L659.4,223.2 L657.8,220.8 L652.2,221.6Z" fill="#fff5eb" stroke="rgba(0,0,0,0.36)" stroke-width="0.5"/>
<path d="M647.5,223.5 L649.2,222.4 L652.5,226.1 L652.3,230.0 L650.2,229.2 L647.6,225.5Z" fill="#fff5eb" stroke="rgba(0,0,0,0.36)" stroke-width="0.5"/>
<path d="M653.1,224.5 L657.1,221.9 L657.0,224.2 L654.9,225.5Z" fill="#fff5eb" stroke="rgba(0,0,0,0.36)" stroke-width="0.5"/>
<path d="M634.7,245.7 L637.0,245.7 L636.6,249.6 L635.8,253.5 L633.7,250.9Z" fill="#fff5eb" stroke="rgba(0,0,0,0.36)" stroke-width="0.5"/>
<path d="M609.4,260.8 L613.0,258.5 L614.8,259.8 L612.1,263.4 L610.0,262.6Z" fill="#fff5eb" stroke="rgba(0,0,0,0.36)" stroke-width="0.5"/>
<path d="M546.6,295.3 L551.0,291.4 L547.3,285.4 L546.3,289.3Z" fill="#fff5eb" stroke="rgba(0,0,0,0.36)" stroke-width="0.5"/>
<path d="M383.2,166.4 L386.4,166.2 L385.9,168.4 L383.5,167.9Z" fill="#fff5eb" stroke="rgba(0,0,0,0.36)" stroke-width="0.5"/>
<path d="M396.6,161.3 L398.2,162.3 L397.1,163.8Z" fill="#fff5eb" stroke="rgba(0,0,0,0.36)" stroke-width="0.5"/>
<path d="M370.2,113.1 L370.5,115.0Z" fill="#fff5eb" stroke="rgba(0,0,0,0.36)" stroke-width="0.5"/>
<path d="M637.1,262.6 L640.9,262.6 L641.1,266.6 L640.3,269.7 L642.1,274.4 L647.0,277.0 L645.9,277.3 L643.4,275.7 L639.9,275.2 L638.8,273.3 L636.6,269.2 L637.3,266.6Z" fill="#fdd29b" stroke="rgba(0,0,0,0.36)" stroke-width="0.5"/>
<path d="M643.9,292.7 L648.3,289.5 L651.4,285.6 L654.4,291.9 L652.0,296.3 L648.6,294.5 L647.2,290.8Z" fill="#fdd29b" stroke="rgba(0,0,0,0.36)" stroke-width="0.5"/>
<path d="M642.8,280.1 L645.3,282.2 L647.5,280.9 L649.5,278.3 L651.5,282.2 L650.2,284.8 L646.9,286.7 L644.3,285.1 L643.0,282.5Z" fill="#fdd29b" stroke="rgba(0,0,0,0.36)" stroke-width="0.5"/>
<path d="M632.5,289.0 L637.4,281.2 L637.0,284.0Z" fill="#fdd29b" stroke="rgba(0,0,0,0.36)" stroke-width="0.5"/>
<path d="M639.5,275.7 L641.5,278.8 L640.0,278.3Z" fill="#fdd29b" stroke="rgba(0,0,0,0.36)" stroke-width="0.5"/>
<path d="M614.4,307.0 L616.0,305.7 L619.0,306.0 L623.6,302.6 L626.9,298.9 L630.2,295.3 L632.3,292.7 L637.9,297.1 L635.0,299.7 L634.7,305.2 L637.6,308.3 L634.2,310.9 L632.0,314.9 L630.5,320.6 L627.0,320.1 L623.6,319.3 L618.9,318.8 L617.1,318.5 L616.7,314.9 L614.5,310.9Z" fill="#fee5c7" stroke="rgba(0,0,0,0.36)" stroke-width="0.5"/>
<path d="M614.4,307.0 L616.0,305.7 L619.0,306.0 L623.6,302.6 L626.9,298.9 L630.2,295.3 L632.3,292.7 L637.9,297.1 L635.0,299.7 L634.6,300.2 L631.6,299.7 L629.4,303.1 L627.4,307.0 L625.6,307.8 L621.4,307.0 L619.1,308.3 L615.8,306.0Z" fill="#fff5eb" stroke="rgba(0,0,0,0.36)" stroke-width="0.5"/>
<path d="M582.4,296.3 L587.6,297.4 L593.5,304.4 L602.2,313.6 L607.4,318.8 L606.9,326.1 L603.6,326.4 L598.8,321.4 L594.8,314.9 L590.6,306.5 L586.6,302.3 L582.5,298.4Z" fill="#fee5c7" stroke="rgba(0,0,0,0.36)" stroke-width="0.5"/>
<path d="M605.1,328.7 L607.1,326.4 L611.7,327.4 L617.3,329.0 L622.0,329.0 L626.4,331.1 L626.0,333.7 L618.3,332.4 L612.6,331.3 L608.0,330.3Z" fill="#fee5c7" stroke="rgba(0,0,0,0.36)" stroke-width="0.5"/>
<path d="M638.4,325.3 L640.7,325.6 L640.5,318.5 L642.1,318.0 L644.3,323.0 L647.0,323.2 L644.4,318.8 L643.3,315.7 L647.5,313.6 L642.2,314.3 L640.0,309.6 L642.2,307.6 L651.2,307.0 L649.2,308.6 L641.3,309.6 L639.5,310.9 L637.4,320.1Z" fill="#fee5c7" stroke="rgba(0,0,0,0.36)" stroke-width="0.5"/>
<path d="M627.5,332.9 L629.7,333.7 L628.5,334.2Z" fill="#fee5c7" stroke="rgba(0,0,0,0.36)" stroke-width="0.5"/>
<path d="M629.8,332.6 L636.7,333.1 L632.0,334.5Z" fill="#fee5c7" stroke="rgba(0,0,0,0.36)" stroke-width="0.5"/>
<path d="M638.5,333.4 L645.9,332.6 L644.7,333.9 L638.9,334.2Z" fill="#fee5c7" stroke="rgba(0,0,0,0.36)" stroke-width="0.5"/>
<path d="M636.5,335.5 L640.6,336.8 L638.7,337.6Z" fill="#fee5c7" stroke="rgba(0,0,0,0.36)" stroke-width="0.5"/>
<path d="M647.9,337.1 L650.6,335.0 L648.7,335.8Z" fill="#fee5c7" stroke="rgba(0,0,0,0.36)" stroke-width="0.5"/>
<path d="M650.6,335.0 L655.1,332.9 L651.6,334.7Z" fill="#fdd29b" stroke="rgba(0,0,0,0.36)" stroke-width="0.5"/>
<path d="M657.2,306.0 L659.6,309.6 L658.5,312.3 L657.3,309.6Z" fill="#fee5c7" stroke="rgba(0,0,0,0.36)" stroke-width="0.5"/>
<path d="M658.3,318.8 L664.0,319.0 L662.8,320.4 L658.2,320.1Z" fill="#fee5c7" stroke="rgba(0,0,0,0.36)" stroke-width="0.5"/>
<path d="M653.6,319.3 L655.9,319.0 L654.7,320.6Z" fill="#fee5c7" stroke="rgba(0,0,0,0.36)" stroke-width="0.5"/>
<path d="M665.3,314.3 L668.9,312.0 L672.3,313.3 L674.4,319.6 L681.3,314.9 L688.4,317.7 L687.3,334.7 L684.0,332.1 L680.5,332.9 L680.6,325.6 L675.5,322.4 L670.9,321.1 L669.3,321.4 L667.5,318.5 L671.0,316.7 L667.1,315.7Z" fill="#fee5c7" stroke="rgba(0,0,0,0.36)" stroke-width="0.5"/>
<path d="M688.4,317.7 L696.3,320.9 L699.6,325.3 L703.1,326.9 L701.9,330.3 L706.8,335.8 L708.7,338.6 L703.1,337.6 L699.0,331.8 L694.5,330.8 L692.7,332.6 L691.8,335.2 L687.3,334.7Z" fill="url(#hatch)" stroke="#c9c9c9" stroke-width="0.5"/>
<path d="M708.8,325.3 L712.4,322.7 L714.3,322.2 L712.3,325.3 L708.7,327.1 L706.4,326.6Z" fill="url(#hatch)" stroke="#c9c9c9" stroke-width="0.5"/>
<path d="M711.5,318.3 L715.9,322.7 L714.8,321.1Z" fill="url(#hatch)" stroke="#c9c9c9" stroke-width="0.5"/>
<path d="M720.3,326.6 L721.9,329.2 L720.8,328.7Z" fill="url(#hatch)" stroke="#c9c9c9" stroke-width="0.5"/>
<path d="M724.4,331.8 L728.9,333.1 L726.5,333.9Z" fill="url(#hatch)" stroke="#c9c9c9" stroke-width="0.5"/>
<path d="M730.6,335.0 L732.7,336.5 L730.9,336.5Z" fill="url(#hatch)" stroke="#c9c9c9" stroke-width="0.5"/>
<path d="M733.1,333.1 L734.4,336.0 L733.3,335.0Z" fill="url(#hatch)" stroke="#c9c9c9" stroke-width="0.5"/>
<path d="M744.9,350.1 L745.0,352.5 L743.8,351.7Z" fill="#fee5c7" stroke="rgba(0,0,0,0.36)" stroke-width="0.5"/>
<path d="M766.9,356.7 L769.4,357.7 L766.9,358.5Z" fill="#fee5c7" stroke="rgba(0,0,0,0.36)" stroke-width="0.5"/>
<path d="M771.1,353.5 L774.0,353.0 L771.2,354.8Z" fill="#fee5c7" stroke="rgba(0,0,0,0.36)" stroke-width="0.5"/>
<path d="M734.9,363.7 L740.2,369.2 L736.3,366.8Z" fill="#fff5eb" stroke="rgba(0,0,0,0.36)" stroke-width="0.5"/>
<path d="M619.3,368.4 L620.5,367.9 L627.2,364.8 L637.5,361.9 L641.2,356.1 L644.3,355.3 L648.8,348.8 L653.6,347.0 L657.9,349.9 L660.8,344.9 L663.3,342.8 L667.2,341.0 L672.5,342.8 L676.6,343.1 L674.4,346.2 L672.7,350.1 L675.7,352.5 L680.2,356.4 L683.6,356.4 L686.5,350.1 L687.6,343.6 L690.3,338.9 L691.4,347.5 L693.6,348.0 L695.2,350.1 L695.5,356.7 L697.8,361.9 L700.3,365.8 L702.8,369.7 L703.7,374.9 L706.3,377.5 L705.2,384.1 L701.0,391.9 L696.3,397.1 L689.9,403.7 L686.2,408.3 L681.1,409.6 L675.6,413.0 L672.9,411.0 L668.9,412.3 L665.5,410.7 L664.3,408.9 L664.8,406.3 L663.8,403.7 L662.9,402.4 L663.4,399.7 L659.7,402.1 L658.8,401.8 L657.8,401.1 L657.4,396.6 L652.9,393.2 L647.1,393.7 L639.9,395.3 L634.8,397.1 L628.5,399.2 L622.4,401.1 L618.5,402.6 L614.9,400.5 L614.6,398.4 L617.0,395.8 L617.8,389.3 L618.2,386.7 L616.8,380.2 L618.1,374.9Z" fill="#fff5eb" stroke="rgba(0,0,0,0.36)" stroke-width="0.5"/>
<path d="M669.5,417.2 L677.0,417.7 L672.7,423.1 L669.2,424.7 L668.2,421.3Z" fill="#fff5eb" stroke="rgba(0,0,0,0.36)" stroke-width="0.5"/>
<path d="M739.7,401.1 L741.3,405.0 L742.7,407.0 L744.7,409.6 L747.0,409.4 L741.0,413.6 L735.2,418.5 L732.2,418.7 L735.5,415.4 L734.3,413.3 L737.9,410.2Z" fill="url(#hatch)" stroke="#c9c9c9" stroke-width="0.5"/>
<path d="M729.6,416.7 L730.5,419.8 L725.8,423.1 L718.4,427.0 L713.7,430.8 L708.2,432.4 L705.4,430.8 L713.3,425.7 L722.0,421.8Z" fill="url(#hatch)" stroke="#c9c9c9" stroke-width="0.5"/>
<path d="M304.5,266.3 L305.4,266.8 L304.9,267.1Z" fill="#fee5c7" stroke="rgba(0,0,0,0.36)" stroke-width="0.5"/>
<path d="M308.0,271.0 L308.7,272.0 L307.8,271.8Z" fill="#fee5c7" stroke="rgba(0,0,0,0.36)" stroke-width="0.5"/>
<path d="M306.2,271.9 L306.6,272.2 L306.3,272.3Z" fill="#fee5c7" stroke="rgba(0,0,0,0.36)" stroke-width="0.5"/>
<path d="M492.5,363.2 L493.5,364.5 L492.7,364.2Z" fill="#fff5eb" stroke="rgba(0,0,0,0.36)" stroke-width="0.5"/>
<path d="M487.8,365.5 L488.8,366.3 L487.9,366.6Z" fill="url(#hatch)" stroke="#c9c9c9" stroke-width="0.5"/>
<path d="M421.1,201.4 L423.7,203.4 L428.0,203.7 L431.9,201.4 L436.1,201.4 L439.2,203.2 L442.9,204.2 L446.5,203.9 L450.2,202.4 L449.5,199.8 L446.0,197.7 L442.5,195.4 L440.8,194.4 L438.1,193.1 L435.9,193.4 L433.0,195.2 L431.9,194.6 L429.5,192.6 L431.4,191.3 L427.0,189.5 L425.4,189.8 L423.8,193.1 L422.1,195.7 L420.7,198.3 L420.1,200.1Z" fill="#fff" stroke="rgba(0,0,0,0.36)" stroke-width="0.5"/>
<path d="M434.6,191.8 L435.8,192.8 L438.0,192.6 L440.7,189.3 L442.5,188.0 L439.1,188.5 L435.1,190.0Z" fill="#fff" stroke="rgba(0,0,0,0.36)" stroke-width="0.5"/>
<path d="M468.5,205.5 L469.3,205.2 L465.8,201.9 L461.9,198.8 L460.7,194.9 L459.5,194.1 L460.6,192.1 L462.2,191.1 L463.4,190.0 L467.1,188.3 L470.6,188.5 L471.8,190.6 L472.0,192.8 L468.5,193.1 L468.8,194.9 L472.5,199.3 L473.6,202.1 L474.5,203.9 L476.9,205.0 L475.3,206.5 L477.8,209.4 L478.7,213.6 L474.9,215.1 L470.9,213.8 L467.9,212.8 L467.3,210.7 L467.9,209.1 L468.1,207.8Z" fill="#fff" stroke="rgba(0,0,0,0.36)" stroke-width="0.5"/>
<path d="M482.5,189.8 L485.9,191.1 L490.2,194.9 L487.8,197.5 L484.0,194.9Z" fill="#fff" stroke="rgba(0,0,0,0.36)" stroke-width="0.5"/>
<path d="M150.9,273.1 L152.6,274.6 L155.6,274.9 L157.3,273.3 L158.1,271.6 L158.9,269.4 L158.2,269.4 L158.9,264.5 L154.8,264.4 L154.6,265.9 L153.5,265.9 L155.6,268.1 L152.6,268.9 L151.1,271.1Z" fill="#fee5c7" stroke="rgba(0,0,0,0.36)" stroke-width="0.5"/>
<path d="M158.9,264.5 L158.3,269.4 L158.9,269.4 L160.6,268.4 L160.8,265.2 L161.3,262.6Z" fill="url(#hatch)" stroke="#c9c9c9" stroke-width="0.5"/>
<path d="M158.9,269.4 L158.1,271.6 L159.4,273.9 L160.9,274.6 L161.2,277.0 L163.1,276.2 L165.0,274.4 L167.5,272.8 L171.7,271.8 L169.4,269.7 L165.6,269.2 L161.4,269.4Z" fill="#fdd29b" stroke="rgba(0,0,0,0.36)" stroke-width="0.5"/>
<path d="M155.6,274.9 L158.5,276.2 L161.2,277.0 L160.9,274.6 L159.4,273.9 L158.1,271.6 L157.3,273.3Z" fill="#fee5c7" stroke="rgba(0,0,0,0.36)" stroke-width="0.5"/>
<path d="M171.7,271.8 L167.5,272.8 L165.0,274.4 L163.1,276.2 L161.2,277.0 L162.8,279.1 L165.1,282.0 L166.9,282.2 L169.5,282.2 L170.4,279.6 L170.7,275.7Z" fill="url(#hatch)" stroke="#c9c9c9" stroke-width="0.5"/>
<path d="M165.1,282.0 L164.9,285.1 L169.5,288.5 L171.1,289.5 L172.0,286.1 L171.1,284.8 L169.5,282.2 L166.9,282.2Z" fill="#fff5eb" stroke="rgba(0,0,0,0.36)" stroke-width="0.5"/>
<path d="M171.1,289.5 L174.3,289.8 L176.8,291.9 L177.1,289.3 L179.0,287.7 L181.5,289.5 L182.5,291.9 L183.8,288.2 L181.4,286.4 L177.9,286.7 L174.4,287.7 L172.0,286.1Z" fill="#fee5c7" stroke="rgba(0,0,0,0.36)" stroke-width="0.5"/>
<path d="M197.6,278.4 L198.6,280.1 L197.3,282.5 L197.3,286.1 L198.7,285.6 L198.9,282.2 L200.9,279.9 L202.5,280.9 L205.8,283.0 L209.2,283.3 L215.0,283.3 L218.4,283.0 L219.5,284.8 L221.7,287.4 L223.9,288.8 L222.7,290.6 L223.8,292.9 L221.2,294.8 L220.4,297.4 L222.0,297.4 L223.4,298.9 L217.1,300.5 L216.4,301.0 L213.0,300.2 L214.3,304.4 L215.7,305.2 L213.8,307.0 L210.7,308.9 L208.9,309.1 L207.5,307.7 L207.1,304.9 L205.5,303.6 L206.5,301.8 L205.6,299.2 L205.7,295.0 L202.0,295.0 L200.5,292.8 L198.4,292.7 L195.7,291.9 L195.3,289.0 L194.7,287.2 L194.1,285.6 L194.4,283.7 L195.9,282.0 L197.0,280.7Z" fill="url(#hatch)" stroke="#c9c9c9" stroke-width="0.5"/>
<path d="M223.9,288.8 L227.3,292.7 L229.5,295.3 L230.4,295.8 L228.2,298.9 L229.8,302.3 L231.6,306.0 L228.8,306.5 L226.3,307.8 L224.0,307.6 L223.8,304.7 L224.5,302.1 L223.4,298.9 L222.0,297.4 L220.4,297.4 L221.2,294.8 L223.8,292.9 L222.7,290.6Z" fill="url(#hatch)" stroke="#c9c9c9" stroke-width="0.5"/>
<path d="M230.4,295.8 L235.3,295.5 L237.7,295.9 L236.3,298.2 L237.5,301.5 L236.5,305.2 L233.0,306.2 L231.6,306.0 L229.8,302.3 L228.2,298.9Z" fill="#fff5eb" stroke="rgba(0,0,0,0.36)" stroke-width="0.5"/>
<path d="M237.7,295.9 L242.1,298.2 L242.9,300.1 L239.9,305.5 L236.5,305.2 L237.5,301.5 L236.3,298.2Z" fill="url(#hatch)" stroke="#c9c9c9" stroke-width="0.5"/>
<path d="M202.6,339.5 L205.1,339.7 L208.6,336.8 L211.9,337.6 L211.9,341.2 L214.6,343.6 L217.1,343.9 L219.7,345.4 L222.1,346.2 L223.5,347.0 L225.1,353.5 L229.2,353.5 L229.2,356.1 L231.2,358.5 L230.7,363.1 L227.8,361.5 L221.7,362.1 L220.8,364.5 L220.4,368.9 L216.7,370.5 L215.1,368.7 L212.1,367.9 L210.5,370.2 L209.0,370.8 L207.7,367.1 L206.0,364.2 L206.7,361.6 L204.8,358.7 L203.5,356.9 L204.6,354.0 L204.5,350.4 L203.5,349.1 L204.1,344.6 L204.5,343.9Z" fill="#fff5eb" stroke="rgba(0,0,0,0.36)" stroke-width="0.5"/>
<path d="M230.7,363.1 L227.8,361.5 L221.7,362.1 L220.8,364.5 L220.4,368.9 L224.6,373.1 L229.4,375.7 L232.2,376.8 L231.3,381.7 L235.9,382.8 L237.9,382.5 L239.6,378.1 L239.6,373.6 L236.5,370.1 L235.8,369.2 L231.7,368.7 L230.9,365.0Z" fill="#fff5eb" stroke="rgba(0,0,0,0.36)" stroke-width="0.5"/>
<path d="M207.7,367.1 L209.0,370.8 L210.5,370.2 L212.1,367.9 L215.1,368.7 L216.7,370.5 L220.4,368.9 L224.6,373.1 L229.4,375.7 L232.2,376.8 L231.3,381.7 L235.9,382.8 L237.9,382.5 L239.6,378.1 L242.0,379.1 L242.0,381.2 L239.0,383.8 L236.8,386.4 L234.4,389.8 L234.1,394.5 L234.4,399.5 L234.5,400.0 L237.7,403.1 L239.4,406.0 L238.4,410.4 L235.7,412.0 L229.4,412.5 L229.4,415.4 L224.4,418.0 L225.3,420.8 L228.4,422.1 L226.3,424.4 L226.4,428.3 L223.4,431.6 L228.0,435.3 L225.7,439.2 L225.0,445.0 L227.5,446.9 L227.2,447.5 L230.2,450.5 L236.1,452.5 L233.8,453.5 L229.6,453.3 L227.2,447.5 L225.1,446.8 L220.1,446.0 L218.6,444.5 L217.8,442.8 L214.2,439.2 L215.3,438.0 L214.6,434.4 L214.9,432.9 L213.6,428.3 L214.5,427.8 L212.7,426.2 L213.0,425.2 L211.8,424.2 L211.2,421.1 L209.6,417.4 L209.2,412.5 L208.4,406.8 L209.4,405.0 L208.8,402.9 L209.6,400.3 L208.6,397.9 L207.7,394.5 L207.9,390.3 L208.0,382.8 L208.8,379.4 L207.7,374.9 L210.9,371.3 L209.0,370.8Z" fill="url(#hatch)" stroke="#c9c9c9" stroke-width="0.5"/>
<path d="M203.5,356.9 L204.8,358.7 L206.7,361.6 L206.0,364.2 L207.7,367.1 L209.0,370.8 L210.9,371.3 L207.7,374.9 L208.8,379.4 L208.0,382.8 L207.9,390.3 L207.7,394.5 L208.6,397.9 L209.6,400.3 L208.8,402.9 L209.4,405.0 L208.4,406.8 L209.2,412.5 L209.6,417.4 L211.2,421.1 L211.8,424.2 L213.0,425.2 L212.7,426.2 L214.5,427.8 L213.6,428.3 L214.9,432.9 L214.6,434.4 L215.3,438.0 L214.2,439.2 L217.8,442.8 L218.6,444.5 L220.1,446.0 L225.1,446.8 L227.2,447.5 L229.6,453.3 L233.8,453.5 L233.4,455.9 L229.5,454.7 L222.4,451.8 L215.8,448.0 L210.7,441.0 L208.7,435.9 L207.3,432.9 L208.3,429.6 L207.3,423.9 L207.9,419.2 L205.6,414.9 L203.9,407.0 L204.5,401.1 L204.9,397.1 L203.8,389.0 L203.3,381.5 L203.1,372.6 L202.8,363.7 L202.1,359.3Z" fill="#fff5eb" stroke="rgba(0,0,0,0.36)" stroke-width="0.5"/>
<path d="M234.4,389.8 L236.8,386.4 L239.9,390.6 L243.6,394.5 L245.3,396.4 L244.3,398.4 L245.0,399.0 L243.9,401.6 L240.3,401.8 L237.7,401.1 L234.4,399.5 L234.1,394.5Z" fill="#fff5eb" stroke="rgba(0,0,0,0.36)" stroke-width="0.5"/>
<path d="M342.9,238.7 L342.9,239.7" fill="none" stroke="#c9c9c9" stroke-width="0.5"/>
<path d="M323.6,256.1 L324.1,255.2 L333.0,255.2" fill="none" stroke="#c9c9c9" stroke-width="0.5"/>
<path d="M387.5,224.4 L385.0,228.2 L384.4,230.5 L383.4,232.1 L384.8,244.9 L389.4,249.7" fill="none" stroke="#c9c9c9" stroke-width="0.5"/>
<path d="M418.9,253.5 L419.1,258.7 L416.5,259.8" fill="none" stroke="#c9c9c9" stroke-width="0.5"/>
<path d="M398.1,249.8 L407.3,254.8 L416.5,259.8" fill="none" stroke="#c9c9c9" stroke-width="0.5"/>
<path d="M445.8,253.5 L418.9,253.5" fill="none" stroke="#c9c9c9" stroke-width="0.5"/>
<path d="M417.0,270.2 L417.0,279.6 L414.9,281.9 L416.5,284.6 L420.2,290.5 L425.5,297.3" fill="none" stroke="#c9c9c9" stroke-width="0.5"/>
<path d="M417.1,284.8 L419.9,284.0 L422.2,286.1 L424.5,285.9 L429.1,285.6 L433.5,285.6 L435.8,279.1 L438.6,279.1 L440.5,285.9" fill="none" stroke="#c9c9c9" stroke-width="0.5"/>
<path d="M445.8,273.3 L447.4,273.1 L450.6,273.1 L451.9,272.5 L454.0,273.0 L457.7,275.8 L459.6,278.2" fill="none" stroke="#c9c9c9" stroke-width="0.5"/>
<path d="M446.0,273.6 L446.6,267.9 L449.8,263.9" fill="none" stroke="#c9c9c9" stroke-width="0.5"/>
<path d="M459.6,278.2 L460.6,278.6 L461.8,278.6" fill="none" stroke="#c9c9c9" stroke-width="0.5"/>
<path d="M460.7,282.4 L461.4,281.2 L462.1,281.4" fill="none" stroke="#c9c9c9" stroke-width="0.5"/>
<path d="M459.1,300.7 L459.7,299.9 L461.1,299.9 L463.2,298.0 L466.2,297.9 L472.5,290.1 L475.0,286.1 L474.8,281.4" fill="none" stroke="#c9c9c9" stroke-width="0.5"/>
<path d="M457.1,313.2 L457.1,303.7 L459.1,300.7" fill="none" stroke="#c9c9c9" stroke-width="0.5"/>
<path d="M440.7,313.4 L441.1,313.7 L449.5,319.0 L449.6,320.6 L452.9,323.2" fill="none" stroke="#c9c9c9" stroke-width="0.5"/>
<path d="M433.2,332.7 L432.3,332.5" fill="none" stroke="#c9c9c9" stroke-width="0.5"/>
<path d="M399.3,305.0 L399.2,306.4 L395.5,305.1 L392.5,305.0 L388.4,305.0 L388.4,308.2 L385.0,308.2" fill="none" stroke="#c9c9c9" stroke-width="0.5"/>
<path d="M392.5,305.0 L392.4,307.3 L394.7,307.3 L395.4,312.0 L394.4,313.6 L395.4,316.2 L391.2,317.2 L389.8,319.8 L387.9,321.1" fill="none" stroke="#c9c9c9" stroke-width="0.5"/>
<path d="M390.5,326.1 L390.7,323.0 L392.3,323.5 L391.1,324.7" fill="none" stroke="#c9c9c9" stroke-width="0.5"/>
<path d="M412.6,344.6 L412.4,352.9 L413.8,355.1 L415.3,356.7 L409.9,358.0 L403.4,356.4 L393.8,355.1 L389.1,356.0" fill="none" stroke="#c9c9c9" stroke-width="0.5"/>
<path d="M415.3,356.7 L418.6,356.3 L419.9,357.3" fill="none" stroke="#c9c9c9" stroke-width="0.5"/>
<path d="M407.9,357.7 L407.6,368.4 L407.3,375.7 L406.9,385.1 L400.9,385.6 L399.1,385.6" fill="none" stroke="#c9c9c9" stroke-width="0.5"/>
<path d="M419.9,357.3 L421.2,359.8 L424.3,364.2 L425.2,364.5 L425.8,367.1 L428.9,368.6" fill="none" stroke="#c9c9c9" stroke-width="0.5"/>
<path d="M407.3,375.7 L411.7,378.9 L415.2,377.0 L420.1,377.5 L422.7,374.4 L425.6,370.8 L428.9,368.6" fill="none" stroke="#c9c9c9" stroke-width="0.5"/>
<path d="M432.9,369.1 L428.9,368.6" fill="none" stroke="#c9c9c9" stroke-width="0.5"/>
<path d="M434.3,374.6 L433.7,377.5 L433.8,378.4 L434.2,380.8 L432.3,382.2 L431.1,380.7 L431.9,378.3 L433.8,378.4" fill="none" stroke="#c9c9c9" stroke-width="0.5"/>
<path d="M422.3,388.3 L424.7,385.9 L427.6,386.7 L426.7,389.3 L424.6,390.9 L422.3,388.3" fill="none" stroke="#c9c9c9" stroke-width="0.5"/>
<path d="M335.7,292.9 L337.7,287.5 L337.3,285.6 L336.7,284.7 L334.8,284.7 L333.7,285.3 L333.0,286.6 L331.7,287.7" fill="none" stroke="#c9c9c9" stroke-width="0.5"/>
<path d="M344.9,299.6 L344.5,299.6 L344.6,297.4 L344.8,296.0 L343.1,294.8 L342.4,294.1 L342.9,292.9 L342.7,291.6 L340.6,291.3 L339.8,288.6 L338.1,289.1 L335.7,292.9" fill="none" stroke="#c9c9c9" stroke-width="0.5"/>
<path d="M332.8,238.7 L342.9,238.7" fill="none" stroke="#c9c9c9" stroke-width="0.5"/>
<path d="M332.8,238.7 L333.5,238.0 L336.6,237.3 L340.0,234.7 L341.0,231.6 L340.6,228.7 L342.5,225.8 L345.6,223.2 L347.4,221.9 L348.5,219.5 L349.5,217.5 L350.8,217.2 L352.7,219.0 L357.5,219.3 L358.4,220.3 L358.6,224.0 L359.6,225.8 L359.6,227.1 L356.8,227.1 L354.1,228.4 L354.1,230.2 L351.2,232.6 L347.8,233.6 L342.9,236.0 L342.9,238.7Z" fill="#fff5eb" stroke="rgba(0,0,0,0.36)" stroke-width="0.5"/>
<path d="M380.9,214.5 L383.4,213.6 L384.6,214.3 L386.2,214.2 L385.1,216.2 L386.0,218.0 L386.5,219.0 L384.8,221.4 L384.4,222.7 L386.7,224.0 L387.5,224.4 L385.0,228.2 L384.4,230.5 L383.4,232.1 L382.1,227.6 L379.9,226.1 L378.8,224.0 L380.4,220.6 L380.4,218.2Z" fill="#fff5eb" stroke="rgba(0,0,0,0.36)" stroke-width="0.5"/>
<path d="M417.8,228.4 L423.1,229.5 L426.5,230.2 L428.6,229.2 L431.9,228.4 L433.7,229.2 L437.9,229.2 L439.9,233.9 L439.1,237.0 L438.7,238.3 L437.3,237.0 L434.7,232.9 L434.9,234.4 L436.4,237.3 L438.3,241.2 L440.4,245.1 L442.6,248.5 L442.7,250.6 L445.8,253.5 L418.9,253.5 L417.9,233.9 L417.1,231.3Z" fill="#fff5eb" stroke="rgba(0,0,0,0.36)" stroke-width="0.5"/>
<path d="M323.6,256.1 L324.1,255.2 L333.0,255.2 L332.6,251.5 L333.2,250.1 L335.3,249.9 L335.4,243.2 L342.8,243.4 L342.9,239.4 L351.2,245.7 L347.8,245.8 L348.7,257.0 L349.7,268.3 L349.6,270.5 L340.4,270.5 L339.2,270.9 L336.3,270.7 L335.2,272.3 L334.4,272.8 L331.5,269.1 L329.0,267.6 L326.6,268.2 L324.6,268.8 L325.1,266.1 L325.5,263.7 L325.0,259.8 L324.7,257.2Z" fill="#fdd29b" stroke="rgba(0,0,0,0.36)" stroke-width="0.5"/>
<path d="M334.4,272.8 L335.2,272.3 L336.3,270.7 L339.2,270.9 L340.4,270.5 L349.6,270.5 L349.7,268.3 L348.7,257.0 L347.8,245.8 L351.2,245.7 L366.4,257.1 L369.5,259.5 L369.5,261.2 L372.0,260.9 L372.0,266.9 L370.6,270.3 L365.5,270.9 L364.6,271.9 L361.7,272.0 L359.8,271.9 L357.3,273.7 L355.2,275.6 L353.1,275.8 L352.1,278.2 L350.3,280.4 L349.9,283.9 L348.4,284.6 L346.5,284.5 L344.1,284.0 L343.1,283.6 L342.5,282.7 L343.0,281.2 L341.3,278.8 L338.9,280.0 L337.3,279.1 L335.8,278.5 L335.8,276.6 L334.5,274.4Z" fill="#fa8b59" stroke="rgba(0,0,0,0.36)" stroke-width="0.5"/>
<path d="M372.0,260.9 L375.2,259.8 L381.7,254.6 L389.4,249.7 L393.0,250.8 L394.3,252.2 L395.9,251.2 L396.5,255.3 L397.4,256.0 L397.5,256.8 L398.4,257.7 L398.0,258.8 L397.2,264.1 L397.1,267.5 L394.3,270.0 L393.3,273.4 L394.3,274.4 L394.4,276.1 L392.3,275.4 L390.5,276.9 L388.8,276.1 L387.5,276.0 L385.6,276.3 L384.2,277.4 L383.0,277.4 L380.2,276.1 L379.1,276.7 L377.9,276.7 L377.1,275.7 L374.8,274.7 L372.3,275.0 L371.7,275.6 L371.4,277.1 L370.7,278.2 L370.6,280.5 L368.8,279.0 L368.0,279.0 L367.2,279.8 L367.3,278.0 L364.6,277.4 L364.6,276.1 L363.3,274.4 L363.0,273.2 L363.1,272.0 L364.6,271.9 L365.5,270.9 L370.6,270.3 L370.8,268.7 L372.0,266.9Z" fill="#c41a14" stroke="rgba(0,0,0,0.36)" stroke-width="0.5"/>
<path d="M395.9,251.2 L398.1,249.8 L407.3,254.8 L416.5,259.8 L417.0,270.2 L415.0,270.0 L414.0,271.9 L413.4,273.5 L413.9,274.2 L413.2,274.9 L413.5,276.0 L412.9,277.1 L412.7,278.1 L413.5,277.9 L414.0,278.9 L414.0,280.4 L414.9,281.2 L414.9,281.9 L413.4,282.3 L412.3,283.3 L410.7,286.2 L408.5,287.4 L406.3,287.3 L405.6,287.5 L405.9,288.4 L404.7,289.3 L403.7,290.3 L400.8,291.3 L400.3,290.8 L399.9,290.7 L399.5,291.4 L397.5,291.6 L397.9,290.9 L397.2,289.1 L396.8,288.0 L395.8,287.5 L394.4,286.0 L394.9,284.8 L396.0,285.0 L396.6,284.9 L397.9,284.9 L396.6,282.5 L396.7,280.8 L396.5,279.0 L395.6,277.4 L395.8,276.1 L394.3,276.1 L394.3,274.4 L393.3,273.4 L394.3,270.0 L397.1,267.5 L397.2,264.1 L398.0,258.8 L398.4,257.7 L397.5,256.8 L397.4,256.0 L396.5,255.3Z" fill="#fa8b59" stroke="rgba(0,0,0,0.36)" stroke-width="0.5"/>
<path d="M368.5,294.6 L368.6,290.4 L368.6,288.7 L369.0,287.1 L369.7,286.3 L370.8,284.7 L370.6,284.0 L371.0,282.9 L370.5,281.4 L370.6,280.5 L370.7,278.2 L371.4,277.1 L371.7,275.6 L372.3,275.0 L374.8,274.7 L377.1,275.7 L377.9,276.7 L379.1,276.7 L380.2,276.1 L383.0,277.4 L384.2,277.4 L385.6,276.3 L387.5,276.0 L388.8,276.1 L390.5,276.9 L392.3,275.4 L394.4,276.1 L394.9,277.5 L394.9,278.4 L395.8,279.4 L395.6,279.9 L395.5,280.7 L393.5,282.7 L392.9,284.4 L392.6,285.8 L392.2,286.3 L391.7,288.2 L390.5,289.2 L389.4,292.7 L387.8,293.6 L386.5,292.5 L385.6,292.6 L384.3,294.1 L382.8,295.7 L381.9,298.5 L379.5,299.4 L378.7,299.3 L377.8,299.9 L375.9,299.8 L374.7,298.2 L372.3,294.6Z" fill="#ee6548" stroke="rgba(0,0,0,0.36)" stroke-width="0.5"/>
<path d="M368.5,294.6 L366.6,294.9 L366.0,293.1 L366.1,287.1 L365.7,286.6 L365.6,285.3 L364.1,283.6 L364.4,282.2 L365.1,281.9 L365.6,280.8 L366.8,280.5 L367.2,279.8 L368.0,279.0 L368.8,279.0 L370.6,280.5 L370.5,281.4 L371.0,282.9 L370.6,284.0 L370.8,284.7 L369.7,286.3 L369.0,287.1 L368.6,288.7 L368.6,290.4Z" fill="#fdb880" stroke="rgba(0,0,0,0.36)" stroke-width="0.5"/>
<path d="M366.6,294.9 L364.7,295.5 L364.2,294.5 L363.6,292.9 L363.4,291.6 L363.9,289.2 L363.4,288.3 L363.1,286.2 L363.1,284.3 L362.2,283.0 L362.3,282.2 L364.4,282.2 L364.1,283.6 L365.6,285.3 L365.7,286.6 L366.1,287.1 L366.0,293.1Z" fill="#fdb880" stroke="rgba(0,0,0,0.36)" stroke-width="0.5"/>
<path d="M355.8,285.8 L354.2,285.1 L353.1,285.2 L352.3,285.9 L351.3,285.3 L349.9,283.9 L349.7,282.4 L350.3,281.2 L350.3,280.4 L352.1,278.2 L352.5,276.4 L353.1,275.8 L354.2,276.1 L355.2,275.6 L355.5,274.9 L357.3,273.7 L357.7,272.9 L359.8,271.9 L361.1,271.5 L361.7,272.0 L363.1,272.0 L363.0,273.2 L363.3,274.4 L364.6,276.1 L364.6,277.4 L367.3,278.0 L367.2,279.8 L366.8,280.5 L365.6,280.8 L365.1,281.9 L364.4,282.2 L362.3,282.2 L361.3,282.0 L360.5,282.4 L359.5,282.2 L355.5,282.3 L355.5,283.8Z" fill="#ee6548" stroke="rgba(0,0,0,0.36)" stroke-width="0.5"/>
<path d="M355.7,297.9 L354.6,297.9 L353.0,297.4 L351.5,297.4 L348.8,297.9 L347.2,298.6 L344.9,299.6 L344.5,299.6 L344.6,297.4 L344.9,297.1 L344.8,296.0 L343.8,294.9 L343.1,294.8 L342.4,294.1 L342.9,292.9 L342.7,291.6 L343.2,290.9 L343.3,289.7 L343.2,289.2 L343.4,288.9 L344.2,288.5 L343.7,286.5 L343.1,285.4 L343.3,284.5 L343.8,284.3 L344.1,284.0 L344.7,284.4 L346.5,284.5 L346.9,283.7 L347.3,283.8 L348.0,283.5 L348.4,284.6 L348.9,284.3 L349.9,283.9 L350.9,284.4 L351.3,285.3 L352.3,285.9 L353.1,285.2 L354.2,285.1 L355.8,285.8 L356.4,289.5 L355.4,291.7 L354.8,294.6 L355.8,296.9Z" fill="#fdb880" stroke="rgba(0,0,0,0.36)" stroke-width="0.5"/>
<path d="M330.7,286.2 L329.9,285.1 L328.7,284.3 L328.5,283.1 L327.5,282.1 L328.5,280.8 L329.8,280.4 L330.7,280.1 L330.8,279.0 L330.8,278.1 L331.9,278.1 L333.6,278.7 L334.3,278.4 L335.5,278.6 L335.8,278.5 L336.0,279.4 L336.9,279.1 L337.3,279.1 L337.9,279.8 L338.9,280.0 L339.6,279.5 L340.9,278.7 L341.3,278.8 L342.1,280.1 L343.0,281.2 L342.6,281.9 L342.5,282.7 L343.1,283.6 L343.8,284.3 L343.1,285.4 L343.7,286.5 L344.2,288.5 L343.4,288.9 L343.3,289.7 L343.2,290.9 L342.2,290.8 L341.7,291.9 L341.0,291.9 L340.6,291.3 L340.7,290.2 L339.8,288.6 L338.7,289.0 L338.1,289.1 L337.7,287.5 L337.3,285.6 L336.7,284.7 L334.8,284.7 L333.7,285.3 L333.0,286.6 L331.7,287.7Z" fill="url(#hatch)" stroke="#c9c9c9" stroke-width="0.5"/>
<path d="M324.0,278.6 L325.2,278.2 L326.6,278.0 L330.8,278.1 L330.8,279.0 L330.7,280.1 L329.8,280.4 L328.5,280.8 L327.5,282.1 L326.3,281.0 L325.3,280.9 L324.8,279.7 L324.1,279.2Z" fill="#fa8b59" stroke="rgba(0,0,0,0.36)" stroke-width="0.5"/>
<path d="M323.9,275.5 L323.0,273.4 L321.9,272.5 L322.9,272.0 L324.1,270.2 L324.6,268.8 L325.4,268.0 L326.6,268.2 L329.0,267.6 L330.1,268.4 L331.5,269.1 L332.9,271.0 L334.4,272.8 L334.5,274.4 L334.9,275.9 L335.8,276.6 L335.8,278.5 L335.5,278.6 L334.3,278.4 L333.6,278.7 L331.9,278.1 L326.6,278.0 L325.2,278.2 L324.0,278.6 L323.6,276.6 L325.7,276.7 L326.7,276.3 L327.5,275.7 L328.5,276.2 L329.5,276.3 L330.5,275.7 L330.1,274.9 L329.3,275.4 L328.6,275.4 L327.7,274.7 L327.0,274.8 L326.5,275.4Z" fill="#fdd29b" stroke="rgba(0,0,0,0.36)" stroke-width="0.5"/>
<path d="M323.6,276.6 L323.9,275.5 L326.5,275.4 L327.0,274.8 L327.7,274.7 L328.6,275.4 L329.3,275.4 L330.1,274.9 L330.5,275.7 L329.5,276.3 L328.5,276.2 L327.5,275.7 L326.7,276.3 L325.7,276.7Z" fill="#fdd29b" stroke="rgba(0,0,0,0.36)" stroke-width="0.5"/>
<path d="M395.6,277.4 L396.5,279.0 L396.7,280.8 L396.6,282.5 L397.9,284.9 L396.6,284.9 L396.0,285.0 L394.9,284.8 L394.4,286.0 L395.8,287.5 L396.8,288.0 L397.2,289.1 L397.9,290.9 L397.5,291.6 L396.4,294.2 L395.9,294.7 L395.7,296.7 L395.9,297.8 L395.8,298.6 L396.8,300.0 L397.1,300.9 L397.9,302.2 L399.0,303.1 L399.1,304.3 L399.3,305.0 L399.2,306.4 L397.3,305.8 L395.5,305.1 L392.5,305.0 L390.9,305.2 L389.5,304.9 L388.4,305.0 L384.6,305.0 L384.9,302.9 L384.0,301.2 L383.0,300.8 L382.5,299.6 L381.9,299.2 L381.9,298.5 L382.8,295.7 L384.3,294.1 L385.6,292.6 L386.5,292.5 L387.8,293.6 L389.4,292.7 L390.5,289.2 L391.7,288.2 L392.2,286.3 L392.6,285.8 L392.9,284.4 L393.5,282.7 L395.5,280.7 L395.6,279.9 L395.8,279.4 L394.9,278.4 L394.9,277.5Z" fill="#fdb880" stroke="rgba(0,0,0,0.36)" stroke-width="0.5"/>
<path d="M425.5,297.3 L424.8,297.6 L423.3,297.5 L421.6,297.2 L420.7,297.4 L420.4,298.1 L419.6,298.2 L418.7,297.6 L416.1,298.9 L415.1,298.6 L414.8,298.9 L414.1,300.4 L412.4,299.9 L410.7,299.7 L409.2,298.7 L407.3,297.8 L406.0,298.6 L405.1,300.0 L404.9,301.8 L403.5,301.7 L401.9,301.2 L400.5,302.6 L399.3,305.0 L399.1,304.3 L399.0,303.1 L397.9,302.2 L397.1,300.9 L396.8,300.0 L395.8,298.6 L395.9,297.8 L395.7,296.7 L395.9,294.7 L396.4,294.2 L397.5,291.6 L399.5,291.4 L399.9,290.7 L400.3,290.8 L400.8,291.3 L403.7,290.3 L404.7,289.3 L405.9,288.4 L405.6,287.5 L406.3,287.3 L408.5,287.4 L410.7,286.2 L412.3,283.3 L413.4,282.3 L414.9,281.9 L415.2,283.0 L416.5,284.6 L416.6,285.7 L416.2,286.7 L416.4,287.6 L417.2,288.3 L419.0,289.5 L420.2,290.5 L420.2,291.4 L421.8,292.7 L422.8,293.8 L423.4,295.1 L425.1,296.5Z" fill="#b10000" stroke="rgba(0,0,0,0.36)" stroke-width="0.5"/>
<path d="M433.6,301.8 L433.5,304.8 L434.4,305.2 L433.6,306.1 L432.8,306.8 L431.9,308.2 L431.4,309.4 L431.3,311.5 L430.8,312.5 L430.7,314.4 L430.0,315.2 L429.9,316.7 L429.6,316.9 L429.4,318.4 L430.0,319.5 L430.1,322.7 L430.5,325.1 L430.2,326.5 L430.7,328.0 L432.0,329.4 L433.2,332.7 L432.3,332.5 L428.5,333.2 L427.9,334.9 L428.3,336.0 L427.9,339.1 L427.5,341.7 L428.1,342.2 L429.7,343.2 L430.4,342.8 L430.5,345.6 L428.7,345.6 L427.8,344.1 L427.0,343.0 L425.2,342.6 L424.7,341.3 L423.3,342.1 L421.5,341.7 L420.8,340.5 L419.3,340.3 L418.2,340.4 L418.1,339.5 L417.3,339.5 L416.3,339.3 L414.8,339.7 L413.8,339.7 L413.3,339.9 L413.5,336.8 L412.7,335.8 L412.5,334.2 L412.9,332.7 L412.5,331.6 L412.4,330.0 L409.6,330.0 L409.8,329.1 L408.7,329.1 L408.5,329.5 L407.1,329.6 L406.5,331.2 L406.2,331.8 L404.9,331.5 L404.1,331.8 L402.6,332.0 L401.7,330.7 L401.2,329.8 L400.5,328.2 L400.0,326.3 L393.2,326.3 L392.4,326.6 L391.7,326.5 L390.7,326.9 L390.4,326.1 L391.0,325.8 L391.1,324.7 L391.5,324.0 L391.9,323.1 L392.1,322.6 L392.9,323.7 L393.7,322.7 L395.0,322.7 L395.1,323.5 L396.0,323.9 L397.4,322.3 L398.7,321.0 L399.3,320.2 L399.2,318.0 L400.2,315.5 L401.3,314.2 L402.8,312.9 L403.1,312.0 L403.2,311.1 L403.5,310.2 L403.4,308.7 L403.7,306.4 L404.1,304.8 L404.8,303.4 L404.9,301.8 L405.1,300.0 L406.0,298.6 L407.3,297.8 L409.2,298.7 L410.7,299.7 L412.4,299.9 L414.1,300.4 L414.8,298.9 L415.1,298.6 L416.1,298.9 L418.7,297.6 L419.6,298.2 L420.4,298.1 L420.7,297.4 L421.6,297.2 L423.3,297.5 L424.8,297.6 L425.5,297.3 L427.0,299.4 L428.0,299.7 L428.6,299.3 L429.7,299.5 L431.0,298.9 L431.5,300.1Z" fill="#990000" stroke="rgba(0,0,0,0.36)" stroke-width="0.5"/>
<path d="M440.7,313.4 L436.0,313.6 L433.5,313.6 L432.7,313.9 L431.3,314.7 L430.7,314.4 L430.8,312.5 L431.3,311.5 L431.4,309.4 L431.9,308.2 L432.8,306.8 L433.6,306.1 L434.4,305.2 L433.5,304.8 L433.6,301.8 L434.5,301.1 L436.0,301.7 L437.9,301.1 L439.5,301.1 L440.9,299.9 L442.0,301.7 L442.3,303.0 L443.3,306.0 L442.5,307.9 L441.4,309.6 L440.7,310.7Z" fill="#da3222" stroke="rgba(0,0,0,0.36)" stroke-width="0.5"/>
<path d="M457.1,313.2 L458.5,315.3 L456.8,316.4 L456.3,317.5 L455.4,317.7 L455.0,319.5 L454.3,320.6 L453.8,322.3 L452.9,323.2 L449.6,320.6 L449.5,319.0 L441.1,313.7 L440.7,313.4 L440.7,310.7 L441.4,309.6 L442.5,307.9 L443.3,306.0 L442.3,303.0 L442.0,301.7 L440.9,299.9 L441.8,298.9 L445.0,297.0 L445.9,299.3 L447.5,299.3 L450.4,301.5 L451.2,301.6 L451.7,301.5 L452.2,301.8 L453.8,302.0 L454.4,300.9 L456.5,299.8 L457.5,300.7 L459.1,300.7 L457.1,303.7Z" fill="#ee6548" stroke="rgba(0,0,0,0.36)" stroke-width="0.5"/>
<path d="M472.5,290.1 L466.2,297.9 L463.2,298.0 L461.1,299.9 L459.7,299.9 L459.1,300.7 L457.5,300.7 L456.5,299.8 L454.4,300.9 L453.8,302.0 L452.2,301.8 L451.7,301.5 L451.2,301.6 L450.4,301.5 L447.5,299.3 L445.9,299.3 L445.0,297.0 L443.8,296.6 L442.4,293.7 L441.3,293.1 L439.7,290.8 L438.3,290.6 L439.1,289.1 L440.3,289.1 L440.6,288.3 L440.5,285.9 L441.2,283.2 L442.2,282.5 L442.4,281.4 L443.3,279.4 L444.7,278.1 L445.5,275.5 L445.8,273.3 L447.4,273.1 L449.1,271.9 L450.6,273.1 L451.9,272.5 L452.5,273.0 L454.0,273.0 L456.1,274.1 L456.7,275.0 L457.7,275.8 L458.8,277.3 L459.6,278.2 L458.8,279.3 L458.1,280.6 L458.3,281.3 L458.2,282.2 L459.6,282.1 L460.2,281.9 L460.7,282.4 L460.3,283.3 L461.2,284.8 L462.1,286.0 L463.0,287.0 L470.6,290.1Z" fill="#fa8b59" stroke="rgba(0,0,0,0.36)" stroke-width="0.5"/>
<path d="M432.7,313.9 L433.6,315.4 L433.4,316.9 L432.8,317.2 L431.5,317.1 L430.8,318.6 L429.4,318.4 L429.6,316.9 L429.9,316.7 L430.0,315.2 L430.7,314.4 L431.3,314.7Z" fill="#fa8b59" stroke="rgba(0,0,0,0.36)" stroke-width="0.5"/>
<path d="M432.8,317.2 L432.9,318.3 L433.4,318.9 L433.4,319.7 L432.8,320.3 L431.9,321.6 L431.1,322.6 L430.1,322.7 L430.0,319.5 L429.4,318.4 L430.8,318.6 L431.5,317.1Z" fill="#b10000" stroke="rgba(0,0,0,0.36)" stroke-width="0.5"/>
<path d="M433.2,332.7 L434.1,333.4 L435.0,333.8 L436.5,334.3 L437.8,335.1 L438.9,336.2 L439.4,338.5 L439.0,339.2 L438.4,341.3 L438.8,343.4 L438.1,344.3 L437.3,346.8 L438.5,347.4 L431.4,349.6 L431.6,351.5 L429.9,351.8 L428.5,352.8 L428.2,353.8 L427.4,354.0 L425.3,356.1 L424.0,357.8 L423.2,357.9 L422.5,357.6 L419.9,357.3 L419.5,357.1 L418.6,356.3 L417.1,356.1 L415.3,356.7 L413.8,355.1 L412.4,352.9 L412.6,344.6 L417.4,344.7 L417.3,343.8 L417.6,342.8 L417.2,341.6 L417.5,340.3 L417.3,339.5 L418.1,339.5 L418.2,340.4 L419.3,340.3 L420.8,340.5 L421.5,341.7 L423.3,342.1 L424.7,341.3 L425.2,342.6 L427.0,343.0 L427.8,344.1 L428.7,345.6 L430.5,345.6 L430.4,342.8 L429.7,343.2 L428.1,342.2 L427.5,341.7 L427.9,339.1 L428.3,336.0 L427.9,334.9 L428.5,333.2 L432.3,332.5Z" fill="#b10000" stroke="rgba(0,0,0,0.36)" stroke-width="0.5"/>
<path d="M437.8,335.1 L440.0,335.6 L440.5,336.3 L441.2,337.5 L441.8,341.0 L441.1,343.0 L441.6,346.4 L442.4,346.4 L443.2,347.2 L444.1,349.1 L444.1,352.5 L443.1,353.0 L442.3,354.8 L440.9,353.2 L440.8,351.4 L441.4,350.2 L441.3,349.1 L440.4,348.5 L439.8,348.7 L438.5,347.4 L437.3,346.8 L438.1,344.3 L438.8,343.4 L438.4,341.3 L439.0,339.2 L439.4,338.5 L438.9,336.2Z" fill="#b10000" stroke="rgba(0,0,0,0.36)" stroke-width="0.5"/>
<path d="M441.8,341.0 L443.5,340.8 L446.2,341.6 L446.9,341.2 L448.5,341.2 L449.3,340.4 L450.7,340.4 L453.2,339.4 L455.1,337.9 L455.5,339.1 L455.3,341.7 L455.5,344.0 L455.4,348.0 L455.7,349.3 L455.0,351.2 L454.0,353.0 L452.4,354.6 L450.3,355.6 L447.6,356.9 L444.9,359.7 L444.0,360.2 L442.4,362.0 L441.4,362.6 L441.1,364.5 L442.1,366.4 L442.4,368.0 L442.4,368.8 L442.8,368.6 L442.6,371.2 L442.2,372.4 L442.7,372.9 L442.3,373.9 L441.3,374.9 L439.4,375.8 L436.5,377.2 L435.5,378.1 L435.6,379.2 L436.2,379.4 L435.9,380.8 L434.2,380.8 L434.1,379.6 L433.8,378.4 L433.7,377.5 L434.3,374.6 L433.8,372.7 L432.9,369.1 L435.4,366.1 L436.1,364.2 L436.5,364.0 L436.8,362.5 L436.5,361.7 L436.7,359.7 L437.2,357.9 L437.3,354.6 L436.2,353.8 L435.1,353.6 L434.7,352.9 L433.6,352.4 L431.7,352.4 L431.6,351.5 L431.4,349.6 L438.5,347.4 L439.8,348.7 L440.4,348.5 L441.3,349.1 L441.4,350.2 L440.8,351.4 L440.9,353.2 L442.3,354.8 L443.1,353.0 L444.1,352.5 L444.1,349.1 L443.2,347.2 L442.4,346.4 L441.6,346.4 L441.1,343.0Z" fill="#990000" stroke="rgba(0,0,0,0.36)" stroke-width="0.5"/>
<path d="M432.9,369.1 L431.7,368.8 L430.9,369.1 L429.8,368.7 L428.9,368.6 L427.5,367.5 L425.8,367.1 L425.2,365.4 L425.2,364.5 L424.3,364.2 L421.8,361.3 L421.2,359.8 L420.7,359.4 L419.9,357.3 L422.5,357.6 L423.2,357.9 L424.0,357.8 L425.3,356.1 L427.4,354.0 L428.2,353.8 L428.5,352.8 L429.9,351.8 L431.6,351.5 L431.7,352.4 L433.6,352.4 L434.7,352.9 L435.1,353.6 L436.2,353.8 L437.3,354.6 L437.2,357.9 L436.7,359.7 L436.5,361.7 L436.8,362.5 L436.5,364.0 L436.1,364.2 L435.4,366.1Z" fill="#ee6548" stroke="rgba(0,0,0,0.36)" stroke-width="0.5"/>
<path d="M476.1,343.5 L476.7,344.6 L477.2,346.4 L477.4,349.5 L477.9,350.7 L477.6,352.0 L477.1,352.7 L476.4,351.2 L476.0,352.0 L476.3,353.9 L476.0,355.0 L475.3,355.6 L475.0,357.8 L472.5,364.5 L470.7,369.4 L469.6,373.1 L468.4,376.1 L466.4,376.7 L464.4,377.8 L463.1,377.2 L461.5,376.2 L460.9,374.8 L461.0,372.5 L460.3,370.4 L460.2,368.6 L460.8,366.7 L461.8,366.2 L461.9,365.4 L463.1,363.4 L463.4,361.7 L463.0,360.5 L462.7,358.8 L462.6,356.4 L463.5,355.0 L463.9,353.3 L465.1,353.2 L466.4,352.7 L467.2,352.2 L468.3,352.2 L469.7,350.7 L471.6,349.1 L472.4,347.7 L472.1,346.6 L473.1,346.9 L474.4,345.1 L474.5,343.6 L475.3,342.4Z" fill="#c41a14" stroke="rgba(0,0,0,0.36)" stroke-width="0.5"/>
<path d="M384.6,305.0 L388.4,305.0 L388.4,308.2 L385.0,308.2 L384.2,308.3 L383.8,307.9Z" fill="#fff5eb" stroke="rgba(0,0,0,0.36)" stroke-width="0.5"/>
<path d="M440.0,233.9 L441.7,239.1 L444.3,243.0 L446.1,245.7 L448.0,248.3 L451.1,254.8 L451.9,256.1 L455.6,261.3 L459.1,266.6 L460.0,270.5 L460.2,273.1 L462.2,277.8 L465.6,277.5 L470.1,275.7 L474.6,273.1 L481.3,269.7 L482.3,268.1 L485.6,266.6 L488.9,265.0 L491.7,262.1 L493.6,261.3 L495.1,257.4 L497.6,252.2 L494.6,249.3 L490.9,248.3 L489.1,245.9 L488.8,242.3 L488.2,244.4 L485.2,247.7 L481.8,248.0 L478.6,247.0 L478.4,245.1 L477.5,242.8 L476.7,246.2 L475.0,242.5 L473.2,240.4 L470.8,237.8 L469.2,235.2 L468.9,232.6 L466.7,232.6 L465.8,234.9 L461.8,234.7 L456.3,229.7 L448.7,226.9 L447.4,223.7 L441.5,225.5 L440.6,225.5 L439.4,224.5 L439.1,226.1 L437.9,229.2Z" fill="url(#hatch)" stroke="#c9c9c9" stroke-width="0.5"/>
<path d="M440.5,218.5 L439.9,216.2 L440.7,215.4 L441.7,214.9 L444.9,214.6 L450.2,214.1 L453.8,214.1 L451.8,215.9 L451.9,221.1 L447.4,223.7 L441.5,225.5 L440.6,225.5 L440.9,224.0 L441.8,220.6 L440.7,220.3Z" fill="#fdd29b" stroke="rgba(0,0,0,0.36)" stroke-width="0.5"/>
<path d="M446.0,197.7 L449.5,199.8 L450.2,202.4 L452.3,202.4 L454.5,203.7 L457.6,203.4 L461.0,203.4 L460.2,201.6 L458.0,200.1 L455.8,199.6 L452.3,198.0 L450.2,198.0Z" fill="#fee5c7" stroke="rgba(0,0,0,0.36)" stroke-width="0.5"/>
<path d="M461.0,203.4 L457.6,203.4 L458.9,204.5 L459.6,206.8 L461.7,207.8 L462.0,209.4 L465.2,209.6 L467.3,210.7 L467.9,209.1 L468.1,207.8 L468.5,205.5 L469.3,205.2 L465.8,201.9 L464.9,201.6 L463.6,203.4Z" fill="url(#hatch)" stroke="#c9c9c9" stroke-width="0.5"/>
<path d="M495.4,217.8 L494.7,215.7 L493.1,215.6 L490.1,213.3 L488.3,213.0 L485.7,211.7 L484.1,211.4 L483.2,211.9 L481.8,211.8 L480.6,213.3 L478.8,213.8 L478.0,212.0 L477.8,209.3 L475.9,208.4 L476.1,206.6 L474.6,206.4 L474.6,204.3 L476.8,204.9 L478.4,204.1 L476.5,202.5 L475.5,201.0 L474.0,201.7 L474.2,203.6 L473.2,201.9 L473.9,201.0 L476.2,200.5 L477.7,201.3 L479.8,203.3 L480.8,203.1 L483.2,203.1 L482.5,201.8 L484.1,200.9 L485.4,199.4 L488.6,200.8 L489.4,202.8 L490.4,203.4 L492.6,203.2 L493.5,203.7 L495.3,206.4 L498.2,208.2 L499.8,209.4 L502.4,210.7 L505.5,211.8 L505.9,213.4 L504.0,212.6 L503.9,213.5 L502.2,214.0 L502.3,216.1 L501.2,216.9 L499.6,217.3 L499.4,218.5 L497.9,218.8Z" fill="url(#hatch)" stroke="#c9c9c9" stroke-width="0.5"/>
<path d="M505.9,213.4 L507.1,213.4 L508.8,214.0 L509.6,214.3 L510.9,213.4 L511.8,213.9 L512.2,212.7 L513.5,212.8 L513.7,212.4 L513.7,211.4 L514.4,210.5 L515.7,211.1 L515.7,211.9 L516.3,212.0 L516.7,214.2 L517.8,215.0 L518.4,214.5 L519.3,214.2 L520.3,213.0 L521.9,213.2 L524.1,213.2 L524.7,214.0 L523.5,214.3 L522.5,214.8 L520.1,215.1 L518.0,215.6 L517.0,216.8 L517.8,217.8 L518.4,219.2 L517.6,220.2 L517.9,221.2 L517.5,222.2 L515.4,222.1 L516.6,223.8 L515.4,224.5 L514.8,226.1 L515.2,227.6 L514.5,228.4 L513.7,228.1 L512.0,228.5 L511.9,229.2 L510.3,229.2 L509.4,230.7 L509.7,232.9 L507.0,234.0 L505.4,233.7 L505.1,234.3 L503.7,234.0 L501.5,234.4 L497.6,233.0 L499.2,230.7 L498.7,229.0 L496.9,228.6 L496.4,226.9 L495.3,224.8 L496.0,223.4 L495.0,223.0 L495.2,221.1 L495.4,217.8 L497.9,218.8 L499.4,218.5 L499.6,217.3 L501.2,216.9 L502.3,216.1 L502.2,214.0 L503.9,213.5 L504.0,212.6Z" fill="url(#hatch)" stroke="#c9c9c9" stroke-width="0.5"/>
<path d="M524.7,214.0 L526.6,215.2 L527.8,217.2 L531.7,218.3 L530.2,220.5 L527.9,220.8 L524.4,220.2 L523.6,221.3 L524.9,223.6 L526.0,225.4 L528.1,226.7 L526.6,228.2 L527.0,230.0 L525.5,232.7 L524.5,235.3 L522.7,238.1 L520.0,237.8 L518.0,240.6 L519.7,241.8 L520.2,243.8 L521.7,245.1 L522.4,247.3 L517.5,247.3 L516.2,249.1 L514.4,248.4 L513.6,246.5 L511.6,244.5 L507.5,245.0 L503.9,245.1 L500.7,245.4 L501.1,242.4 L504.2,241.1 L503.8,239.9 L502.7,239.4 L502.3,237.1 L500.0,236.0 L498.9,234.4 L497.6,233.0 L501.5,234.4 L503.7,234.0 L505.1,234.3 L505.4,233.7 L507.0,234.0 L509.7,232.9 L509.4,230.7 L510.3,229.2 L511.9,229.2 L512.0,228.5 L513.7,228.1 L514.5,228.4 L515.2,227.6 L514.8,226.1 L515.4,224.5 L516.6,223.8 L515.4,222.1 L517.5,222.2 L517.9,221.2 L517.6,220.2 L518.4,219.2 L517.8,217.8 L517.0,216.8 L518.0,215.6 L520.1,215.1 L522.5,214.8 L523.5,214.3Z" fill="url(#hatch)" stroke="#c9c9c9" stroke-width="0.5"/>
<path d="M508.8,214.0 L509.4,211.3 L508.4,209.4 L506.7,208.8 L507.0,207.6 L508.8,207.7 L509.4,206.3 L509.6,204.6 L512.2,204.0 L512.1,205.2 L512.7,206.0 L513.5,205.9 L515.2,206.1 L518.2,206.9 L520.2,207.4 L519.8,208.0 L524.1,213.2 L521.9,213.2 L520.3,213.0 L519.3,214.2 L518.4,214.5 L517.8,215.0 L516.7,214.2 L516.3,212.0 L515.7,211.9 L515.7,211.1 L514.4,210.5 L513.7,211.4 L513.7,212.4 L513.5,212.8 L512.2,212.7 L511.8,213.9 L510.9,213.4 L509.6,214.3Z" fill="#fee5c7" stroke="rgba(0,0,0,0.36)" stroke-width="0.5"/>
<path d="M531.7,218.3 L534.9,221.3 L535.2,223.4 L536.4,224.8 L536.6,226.1 L535.0,225.8 L536.3,228.6 L538.8,230.3 L542.4,232.1 L541.2,233.3 L540.8,235.8 L543.1,236.7 L545.5,238.0 L548.7,239.5 L551.8,239.8 L553.4,241.1 L555.1,241.4 L558.0,242.0 L559.8,242.0 L559.9,240.9 L559.2,239.3 L559.2,238.1 L560.4,237.6 L561.0,239.7 L561.2,240.2 L563.4,241.2 L564.8,240.7 L566.7,240.9 L568.5,240.9 L568.3,239.3 L567.2,238.4 L569.0,238.1 L570.6,236.2 L572.8,234.5 L574.8,235.1 L576.1,234.0 L577.6,235.7 L577.0,236.8 L579.5,237.1 L579.9,238.1 L579.2,238.6 L579.8,240.2 L578.1,239.8 L575.6,241.6 L576.0,243.0 L575.2,245.2 L575.3,246.5 L574.7,248.7 L572.8,248.1 L573.1,250.8 L572.7,251.7 L573.2,252.8 L572.1,253.4 L570.3,249.2 L569.7,249.3 L569.6,250.9 L568.1,249.6 L568.6,248.1 L569.6,247.9 L570.3,245.7 L568.9,245.3 L566.8,245.3 L564.6,245.0 L564.0,243.1 L563.0,243.0 L560.9,241.9 L560.5,243.6 L562.4,245.0 L561.2,246.0 L560.8,247.0 L562.3,247.7 L562.1,249.2 L563.2,251.2 L563.9,253.3 L563.7,254.3 L562.2,254.3 L559.4,254.8 L559.8,256.8 L558.8,258.3 L555.8,260.1 L553.6,263.2 L552.1,264.8 L550.0,266.5 L550.1,267.7 L549.1,268.4 L547.1,269.3 L546.0,269.4 L545.6,271.4 L546.3,274.8 L546.6,277.0 L545.8,279.5 L546.2,283.9 L545.0,284.0 L544.1,286.0 L544.8,286.9 L542.7,287.6 L542.0,289.4 L541.1,290.1 L538.8,287.7 L537.6,284.0 L536.5,281.4 L535.6,280.2 L534.2,277.7 L533.4,274.4 L532.9,272.8 L530.5,269.2 L529.0,264.1 L528.0,260.8 L527.7,257.6 L527.0,255.2 L523.9,256.7 L522.2,256.4 L518.9,253.3 L519.9,252.3 L519.1,251.3 L516.2,249.1 L517.5,247.3 L522.4,247.3 L521.7,245.1 L520.2,243.8 L519.7,241.8 L518.0,240.6 L520.0,237.8 L522.7,238.1 L524.5,235.3 L525.5,232.7 L527.0,230.0 L526.6,228.2 L528.1,226.7 L526.0,225.4 L524.9,223.6 L523.6,221.3 L524.4,220.2 L527.9,220.8 L530.2,220.5Z" fill="#fee5c7" stroke="rgba(0,0,0,0.36)" stroke-width="0.5"/>
<path d="M572.1,253.4 L572.4,255.3 L571.5,254.9 L572.0,257.0 L571.1,255.6 L570.8,254.3 L570.2,253.0 L569.0,251.5 L566.9,251.4 L567.3,252.5 L566.8,253.9 L565.7,253.4 L565.5,253.9 L564.8,253.6 L563.9,253.3 L563.2,251.2 L562.1,249.2 L562.3,247.7 L560.8,247.0 L561.2,246.0 L562.4,245.0 L560.5,243.6 L560.9,241.9 L563.0,243.0 L564.0,243.1 L564.6,245.0 L566.8,245.3 L568.9,245.3 L570.3,245.7 L569.6,247.9 L568.6,248.1 L568.1,249.6 L569.6,250.9 L569.7,249.3 L570.3,249.2Z" fill="#fee5c7" stroke="rgba(0,0,0,0.36)" stroke-width="0.5"/>
<path d="M567.2,238.4 L568.3,239.3 L568.5,240.9 L566.7,240.9 L564.8,240.7 L563.4,241.2 L561.2,240.2 L561.0,239.7 L562.1,237.7 L563.2,237.0 L564.9,237.7 L566.1,237.7Z" fill="url(#hatch)" stroke="#c9c9c9" stroke-width="0.5"/>
<path d="M588.5,258.2 L587.3,259.4 L585.7,259.5 L585.1,262.3 L584.2,262.8 L585.6,265.1 L587.3,267.0 L588.5,268.7 L587.9,271.0 L587.2,271.5 L587.9,272.8 L589.6,274.8 L590.0,276.3 L590.1,277.5 L591.2,279.9 L590.2,282.3 L589.3,285.0 L588.9,283.1 L589.4,281.1 L588.5,279.5 L588.4,276.7 L587.4,275.3 L586.3,272.2 L585.5,268.9 L584.2,266.7 L582.9,268.0 L580.5,269.9 L579.2,269.7 L577.7,269.1 L578.1,265.8 L577.3,263.4 L575.1,260.4 L575.3,259.4 L573.9,259.1 L572.0,257.0 L571.1,255.6 L570.8,254.3 L572.4,255.3 L572.1,253.4 L573.2,252.8 L572.7,251.7 L573.1,250.8 L572.8,248.1 L574.7,248.7 L575.3,246.5 L575.2,245.2 L576.0,243.0 L575.6,241.6 L578.1,239.8 L579.8,240.2 L579.2,238.6 L579.9,238.1 L579.5,237.1 L580.8,236.9 L581.9,238.5 L583.0,239.1 L583.5,241.1 L583.9,243.3 L582.3,245.4 L582.5,248.5 L584.8,248.1 L585.8,250.5 L587.3,251.0 L587.0,253.2 L588.8,254.2 L589.9,254.6 L591.4,253.9 L591.6,255.0 L590.0,256.7 L589.7,257.6Z" fill="url(#hatch)" stroke="#c9c9c9" stroke-width="0.5"/>
<path d="M598.0,279.1 L597.2,276.0 L598.4,273.8 L601.4,273.3 L603.5,273.7 L605.5,274.7 L606.4,272.9 L608.5,273.9 L609.2,275.6 L609.3,278.7 L605.6,280.7 L606.8,282.3 L604.4,282.5 L602.5,283.6 L600.5,283.2 L599.5,281.8Z" fill="url(#hatch)" stroke="#c9c9c9" stroke-width="0.5"/>
<path d="M608.5,273.9 L606.4,272.9 L605.5,274.7 L603.5,273.7 L604.2,272.5 L604.0,270.3 L601.8,268.0 L601.3,265.4 L599.2,263.3 L597.5,263.1 L595.8,264.1 L595.1,263.7 L592.9,265.2 L592.5,262.9 L592.7,260.1 L591.2,260.0 L590.8,258.4 L589.7,257.6 L590.0,256.7 L591.6,255.0 L592.0,255.6 L593.2,255.7 L592.3,252.7 L593.5,252.3 L595.1,254.3 L596.5,256.7 L599.3,256.7 L600.6,259.0 L599.2,259.7 L598.7,260.6 L601.7,262.2 L605.8,267.6 L607.8,269.4 L608.6,271.3Z" fill="url(#hatch)" stroke="#c9c9c9" stroke-width="0.5"/>
<path d="M627.4,206.5 L630.1,207.8 L630.7,210.4 L632.3,212.5 L633.8,212.5 L635.1,212.0 L636.3,210.9 L637.9,210.2 L635.3,206.5 L637.5,204.2 L636.6,202.7 L637.1,200.3 L635.0,198.8 L633.9,200.6 L632.3,201.4 L630.6,202.1 L629.5,203.9Z" fill="url(#hatch)" stroke="#c9c9c9" stroke-width="0.5"/>
<path d="M395.5,188.8 L395.9,186.7 L397.1,186.0 L400.5,186.0 L403.5,185.2 L407.1,184.9 L408.5,186.2 L405.7,190.3 L404.1,190.8 L401.1,191.3 L398.6,191.3 L396.2,189.8Z" fill="url(#hatch)" stroke="#c9c9c9" stroke-width="0.5"/>
<path d="M394.8,193.1 L396.5,193.1 L401.7,193.6 L402.5,193.9 L403.0,196.2 L402.4,197.5 L401.5,198.8 L399.2,199.0 L397.8,197.5 L395.6,195.7 L395.1,194.4Z" fill="url(#hatch)" stroke="#c9c9c9" stroke-width="0.5"/>
<path d="M404.6,200.1 L405.9,198.3 L407.7,199.6 L407.6,200.8 L405.8,201.6Z" fill="#fee5c7" stroke="rgba(0,0,0,0.36)" stroke-width="0.5"/>
<path d="M405.7,203.7 L406.5,200.8 L409.2,200.6 L410.9,202.7 L410.2,203.7 L406.9,204.2Z" fill="#fee5c7" stroke="rgba(0,0,0,0.36)" stroke-width="0.5"/>
<path d="M126.9,134.1 L102.5,155.5 L105.4,156.2 L106.3,158.2 L111.4,156.7 L112.2,159.9 L111.5,164.7 L113.1,166.2" fill="none" stroke="rgba(0,0,0,0.36)" stroke-width="0.5"/>
<path d="M113.6,183.4 L169.9,183.4 L170.4,182.4 L171.0,182.7 L173.8,184.4 L180.0,186.0 L183.6,185.2 L188.5,188.8 L189.5,190.3 L191.5,192.8 L188.8,200.1 L187.0,201.4 L196.4,199.3 L197.1,197.5 L202.5,197.0 L207.2,193.6 L214.0,193.6 L216.1,192.3 L218.7,189.3 L220.9,187.5 L222.9,187.6 L223.5,188.5 L222.3,191.8 L223.2,194.1" fill="none" stroke="rgba(0,0,0,0.36)" stroke-width="0.5"/>
<path d="M104.5,226.1 L110.0,225.5 L116.8,229.2 L123.0,229.2 L123.5,227.9 L127.2,227.9 L129.9,233.6 L132.8,235.2 L136.7,233.1 L138.9,237.8 L139.4,240.7 L144.0,243.0" fill="none" stroke="rgba(0,0,0,0.36)" stroke-width="0.5"/>
<path d="M197.0,280.7 L195.9,282.0 L194.4,283.7 L194.1,285.6 L194.7,287.2 L195.3,289.0 L195.7,291.9 L198.4,292.7 L200.5,292.8 L202.0,295.0 L205.7,295.0 L205.6,299.2 L206.5,301.8 L205.5,303.6 L207.1,304.9 L207.5,307.7 L206.6,305.7 L200.8,306.5 L200.6,308.1 L202.2,309.4 L201.2,309.9 L200.3,311.5 L201.2,312.4 L200.7,322.2 L198.6,321.1 L193.7,317.2 L192.3,315.9 L190.1,312.3 L188.0,311.2 L185.7,309.9 L183.2,309.9 L182.5,308.9 L180.0,306.2" fill="none" stroke="rgba(0,0,0,0.36)" stroke-width="0.5"/>
<path d="M188.0,311.2 L188.3,314.9 L185.2,317.7 L182.4,318.8 L180.8,320.1 L179.7,324.0 L177.4,322.4 L176.6,319.8" fill="none" stroke="rgba(0,0,0,0.36)" stroke-width="0.5"/>
<path d="M200.7,322.2 L199.1,321.4 L195.7,324.0 L193.7,326.6 L193.3,328.2 L192.2,330.0 L191.6,330.5 L195.2,334.5 L195.7,336.5 L199.6,335.8 L200.1,339.7 L202.6,339.5" fill="none" stroke="rgba(0,0,0,0.36)" stroke-width="0.5"/>
<path d="M202.6,339.5 L204.5,343.9 L204.1,344.6 L203.5,349.1 L204.5,350.4 L204.6,354.0 L203.5,356.9 L202.1,359.3" fill="none" stroke="rgba(0,0,0,0.36)" stroke-width="0.5"/>
<path d="M343.5,201.1 L345.0,201.4 L348.4,201.6 L347.7,203.9 L347.3,207.3 L346.3,208.1 L347.2,211.2 L346.3,213.8" fill="none" stroke="rgba(0,0,0,0.36)" stroke-width="0.5"/>
<path d="M358.5,197.7 L360.8,199.0 L363.8,199.3 L365.9,200.1 L369.0,200.3" fill="none" stroke="rgba(0,0,0,0.36)" stroke-width="0.5"/>
<path d="M367.3,178.1 L370.3,180.1 L371.9,180.9 L374.0,182.1 L375.2,182.1 L377.5,183.4 L378.9,183.4 L377.8,187.0 L376.2,187.8 L374.6,190.3 L376.7,191.3 L376.0,193.4 L376.9,195.7 L378.0,196.7" fill="none" stroke="rgba(0,0,0,0.36)" stroke-width="0.5"/>
<path d="M369.0,177.4 L371.2,177.1 L373.8,177.9 L374.5,178.9 L375.1,180.1 L374.5,180.6 L374.0,182.1" fill="none" stroke="rgba(0,0,0,0.36)" stroke-width="0.5"/>
<path d="M374.5,178.9 L374.2,176.4 L375.8,176.1 L376.1,174.4 L376.4,172.6" fill="none" stroke="rgba(0,0,0,0.36)" stroke-width="0.5"/>
<path d="M378.9,168.6 L380.9,168.9 L381.7,169.1" fill="none" stroke="rgba(0,0,0,0.36)" stroke-width="0.5"/>
<path d="M390.2,171.1 L390.5,172.6 L391.0,174.4 L391.5,176.9 L392.2,178.1" fill="none" stroke="rgba(0,0,0,0.36)" stroke-width="0.5"/>
<path d="M386.5,180.1 L389.3,179.1 L392.2,178.1 L395.3,179.9 L398.4,180.9 L400.2,182.1 L402.7,182.9 L405.6,182.4 L407.9,183.2" fill="none" stroke="rgba(0,0,0,0.36)" stroke-width="0.5"/>
<path d="M386.5,180.1 L387.4,181.4 L388.5,182.7 L390.2,183.9 L388.7,185.5 L388.8,187.2 L387.2,186.7 L383.7,187.2 L381.9,187.2 L379.6,187.0 L377.8,187.0" fill="none" stroke="rgba(0,0,0,0.36)" stroke-width="0.5"/>
<path d="M376.7,191.3 L379.8,190.6 L380.9,191.6 L383.9,189.8 L381.9,188.0 L381.9,187.2" fill="none" stroke="rgba(0,0,0,0.36)" stroke-width="0.5"/>
<path d="M383.8,188.8 L387.3,188.3 L390.4,189.8 L390.4,191.6" fill="none" stroke="rgba(0,0,0,0.36)" stroke-width="0.5"/>
<path d="M390.2,183.9 L392.6,183.4 L396.5,184.4 L397.1,186.0 L396.0,187.2 L395.3,188.8 L393.1,189.5 L390.4,189.8" fill="none" stroke="rgba(0,0,0,0.36)" stroke-width="0.5"/>
<path d="M396.5,184.4 L398.3,183.7 L400.2,182.1" fill="none" stroke="rgba(0,0,0,0.36)" stroke-width="0.5"/>
<path d="M407.9,183.2 L409.3,179.9 L410.4,178.9 L408.9,176.9 L408.8,174.6 L409.1,172.9 L408.1,170.9 L406.6,169.9 L400.3,169.9" fill="none" stroke="rgba(0,0,0,0.36)" stroke-width="0.5"/>
<path d="M406.6,169.9 L403.0,167.7" fill="none" stroke="rgba(0,0,0,0.36)" stroke-width="0.5"/>
<path d="M402.5,165.7 L408.1,165.2 L413.4,166.7" fill="none" stroke="rgba(0,0,0,0.36)" stroke-width="0.5"/>
<path d="M408.1,161.3 L410.3,161.3 L414.1,162.3 L414.2,159.9 L414.3,157.4" fill="none" stroke="rgba(0,0,0,0.36)" stroke-width="0.5"/>
<path d="M408.9,176.9 L411.8,176.1 L415.9,176.9 L418.8,176.9 L422.9,177.6 L425.1,175.6 L426.0,172.9 L422.7,170.9 L421.5,166.9 L416.2,165.5 L413.4,166.7 L412.3,169.6 L409.1,171.1 L408.1,170.9" fill="none" stroke="rgba(0,0,0,0.36)" stroke-width="0.5"/>
<path d="M425.1,175.6 L430.4,176.4 L432.7,178.4 L435.6,180.1 L439.0,180.9 L442.8,181.9 L443.6,185.5 L441.8,187.8 L440.7,189.3" fill="none" stroke="rgba(0,0,0,0.36)" stroke-width="0.5"/>
<path d="M407.9,183.2 L407.1,184.9 L408.9,186.2 L412.8,186.7 L416.3,185.5 L419.3,186.0 L421.9,187.2 L423.1,189.8 L424.4,191.6 L423.8,193.1" fill="none" stroke="rgba(0,0,0,0.36)" stroke-width="0.5"/>
<path d="M416.3,185.5 L418.4,187.2 L420.2,189.8 L420.6,192.3" fill="none" stroke="rgba(0,0,0,0.36)" stroke-width="0.5"/>
<path d="M408.9,186.2 L405.7,190.3 L404.1,190.8 L406.6,193.1 L409.5,194.9 L410.9,196.5 L414.5,197.0 L417.5,195.9 L420.5,196.2 L422.0,197.0" fill="none" stroke="rgba(0,0,0,0.36)" stroke-width="0.5"/>
<path d="M409.5,194.9 L409.3,198.8 L410.6,201.4 L410.9,202.7 L414.1,202.7 L417.5,202.9 L418.2,201.6 L421.4,201.6" fill="none" stroke="rgba(0,0,0,0.36)" stroke-width="0.5"/>
<path d="M417.5,202.9 L418.1,204.2" fill="none" stroke="rgba(0,0,0,0.36)" stroke-width="0.5"/>
<path d="M404.8,207.8 L406.4,206.0 L406.9,204.2" fill="none" stroke="rgba(0,0,0,0.36)" stroke-width="0.5"/>
<path d="M402.5,193.9 L404.9,194.9 L406.6,193.1" fill="none" stroke="rgba(0,0,0,0.36)" stroke-width="0.5"/>
<path d="M402.4,197.5 L404.6,200.1 L403.7,201.9" fill="none" stroke="rgba(0,0,0,0.36)" stroke-width="0.5"/>
<path d="M404.5,142.7 L402.5,138.0 L397.6,135.3 L401.9,135.8 L405.4,134.4 L409.7,133.3 L411.1,135.5 L409.9,137.8 L413.9,140.0 L413.9,143.4 L418.8,149.2 L413.8,155.1" fill="none" stroke="rgba(0,0,0,0.36)" stroke-width="0.5"/>
<path d="M383.2,159.1 L385.3,155.1 L384.5,152.2 L384.6,148.0 L387.8,144.5 L389.7,138.9 L392.7,136.7 L395.9,135.5 L397.6,135.3" fill="none" stroke="rgba(0,0,0,0.36)" stroke-width="0.5"/>
<path d="M409.7,133.3 L413.7,134.0" fill="none" stroke="rgba(0,0,0,0.36)" stroke-width="0.5"/>
<path d="M460.4,192.1 L461.9,189.5 L459.3,187.5 L457.2,183.2 L459.7,180.9 L462.6,177.1 L466.5,177.1 L472.2,179.1 L477.0,178.6 L482.1,178.9 L483.9,175.9 L480.2,172.6 L482.1,170.9 L488.3,169.4 L494.3,167.7 L499.5,168.4 L505.8,171.6 L511.0,170.4 L515.6,173.9 L521.7,178.4 L527.0,178.9 L533.2,181.4 L538.7,183.2" fill="none" stroke="rgba(0,0,0,0.36)" stroke-width="0.5"/>
<path d="M538.7,183.2 L542.6,180.1 L546.1,179.1 L553.1,180.9 L556.1,175.9 L558.3,176.1 L565.1,177.6 L570.7,180.1 L575.7,180.1 L581.2,182.7 L585.4,182.9 L589.8,181.9 L591.9,180.4 L596.4,181.1" fill="none" stroke="rgba(0,0,0,0.36)" stroke-width="0.5"/>
<path d="M596.4,181.1 L599.7,182.1 L601.8,180.1 L600.2,176.1 L599.4,172.9 L605.1,172.6 L608.6,173.4 L618.4,180.9 L625.3,183.7 L629.3,186.7 L633.6,185.5 L636.3,184.9 L636.8,187.2 L638.0,191.1 L638.5,193.6 L634.8,193.9 L637.2,199.0 L637.1,200.3" fill="none" stroke="rgba(0,0,0,0.36)" stroke-width="0.5"/>
<path d="M538.7,183.2 L539.7,183.2 L542.4,186.0 L548.2,189.8 L551.0,193.6 L556.3,193.9 L565.0,199.6 L572.5,199.8 L583.0,201.9 L588.5,200.3 L594.1,199.3 L596.3,197.0 L593.9,194.4 L598.0,194.1 L602.9,193.6 L603.5,189.5 L607.9,189.3 L603.6,186.2 L601.4,186.7 L598.6,186.5 L596.4,181.1" fill="none" stroke="rgba(0,0,0,0.36)" stroke-width="0.5"/>
<path d="M538.7,183.2 L537.3,187.5 L531.8,188.5 L532.4,192.3 L528.2,193.6 L530.6,199.0 L528.2,202.4 L523.9,205.2 L520.0,207.8 L524.2,213.3" fill="none" stroke="rgba(0,0,0,0.36)" stroke-width="0.5"/>
<path d="M480.8,203.1 L478.4,193.6 L483.4,192.1 L489.2,195.2 L492.0,197.5 L497.9,197.0 L501.0,199.0 L502.6,201.6 L506.5,203.9 L508.3,202.9 L511.4,201.4 L511.8,200.6 L516.9,200.1 L519.8,199.3 L527.1,199.3 L530.6,199.0" fill="none" stroke="rgba(0,0,0,0.36)" stroke-width="0.5"/>
<path d="M511.8,200.6 L511.6,202.7 L516.8,204.2 L517.8,205.5 L515.3,206.3 L513.5,206.0" fill="none" stroke="rgba(0,0,0,0.36)" stroke-width="0.5"/>
<path d="M468.9,232.6 L469.9,230.0 L467.9,230.0 L467.5,226.1 L463.4,224.8 L461.7,222.2 L462.1,217.5 L459.1,213.8 L457.4,211.7 L458.0,207.6" fill="none" stroke="rgba(0,0,0,0.36)" stroke-width="0.5"/>
<path d="M453.8,214.1 L459.1,213.8" fill="none" stroke="rgba(0,0,0,0.36)" stroke-width="0.5"/>
<path d="M450.2,202.4 L452.3,202.4 L454.5,203.7 L455.2,206.0 L458.0,207.6 L462.0,209.4" fill="none" stroke="rgba(0,0,0,0.36)" stroke-width="0.5"/>
<path d="M440.3,217.2 L440.7,215.4" fill="none" stroke="rgba(0,0,0,0.36)" stroke-width="0.5"/>
<path d="M593.4,294.0 L595.6,295.8 L597.4,295.8 L598.3,294.8" fill="none" stroke="rgba(0,0,0,0.36)" stroke-width="0.5"/>
<path d="M607.1,254.8 L603.5,251.4 L600.2,250.1 L596.4,251.7 L593.5,252.2" fill="none" stroke="rgba(0,0,0,0.36)" stroke-width="0.5"/>
<path d="M541.3,233.4 L543.1,231.6 L547.0,234.4 L550.7,236.0 L554.4,238.1 L559.1,238.1" fill="none" stroke="rgba(0,0,0,0.36)" stroke-width="0.5"/>
<path d="M588.5,258.2 L590.1,262.6 L592.9,265.2 L594.1,266.6 L595.8,264.2 L597.5,263.2" fill="none" stroke="rgba(0,0,0,0.36)" stroke-width="0.5"/>
<path d="M598.0,279.1 L598.9,280.7 L599.5,281.8" fill="none" stroke="rgba(0,0,0,0.36)" stroke-width="0.5"/>
<path d="M603.5,273.6 L605.3,273.3" fill="none" stroke="rgba(0,0,0,0.36)" stroke-width="0.5"/>
<path d="M448.7,226.9 L448.2,226.6" fill="none" stroke="rgba(0,0,0,0.36)" stroke-width="0.5"/>
<path d="M459.9,268.1 L461.1,265.2 L462.9,265.5 L465.9,265.8 L468.9,265.8 L470.6,263.9 L474.1,262.4 L480.7,261.3 L483.6,267.5 L481.8,270.2" fill="none" stroke="#c9c9c9" stroke-width="0.5"/>
<path d="M480.7,261.3 L487.3,258.7 L488.4,253.5 L487.1,251.7 L481.2,251.0 L478.7,247.7" fill="none" stroke="#c9c9c9" stroke-width="0.5"/>
<path d="M487.1,251.7 L488.6,248.3 L489.1,245.9" fill="none" stroke="#c9c9c9" stroke-width="0.5"/>
<path d="M476.7,246.2 L477.7,246.7" fill="none" stroke="#c9c9c9" stroke-width="0.5"/>
<path d="M465.8,234.9 L470.3,236.5" fill="none" stroke="#c9c9c9" stroke-width="0.5"/>
<path d="M440.2,234.2 L443.5,233.9 L446.4,231.6 L444.0,228.7 L448.7,226.9" fill="none" stroke="#c9c9c9" stroke-width="0.5"/>
<path d="M440.2,234.2 L440.7,228.7 L440.6,225.5" fill="none" stroke="#c9c9c9" stroke-width="0.5"/>
<path d="M681.3,314.9 L688.4,317.7" fill="none" stroke="#c9c9c9" stroke-width="0.5"/>
</svg>
<svg width="850" height="600" style="position:absolute;left:0;top:0">
<defs><pattern id="hatch2" patternUnits="userSpaceOnUse" width="4" height="4"><rect width="4" height="4" fill="#fff"/><path d="M-1,1 L1,-1 M0,4 L4,0 M3,5 L5,3" stroke="#e9e9e9" stroke-width="1.4"/></pattern></defs>
<rect x="69.5" y="501.5" width="47" height="11" fill="url(#hatch2)" stroke="#bbb" stroke-width="1"/>
<line x1="93" y1="498" x2="93" y2="502" stroke="#bbb" stroke-width="1"/><line x1="136.5" y1="498" x2="136.5" y2="502" stroke="#bbb" stroke-width="1"/><line x1="195.1" y1="498" x2="195.1" y2="502" stroke="#bbb" stroke-width="1"/><line x1="253.7" y1="498" x2="253.7" y2="502" stroke="#bbb" stroke-width="1"/><line x1="312.3" y1="498" x2="312.3" y2="502" stroke="#bbb" stroke-width="1"/><line x1="370.9" y1="498" x2="370.9" y2="502" stroke="#bbb" stroke-width="1"/><line x1="429.5" y1="498" x2="429.5" y2="502" stroke="#bbb" stroke-width="1"/><line x1="488.1" y1="498" x2="488.1" y2="502" stroke="#bbb" stroke-width="1"/><line x1="546.7" y1="498" x2="546.7" y2="502" stroke="#bbb" stroke-width="1"/><line x1="605.3" y1="498" x2="605.3" y2="502" stroke="#bbb" stroke-width="1"/><line x1="663.9" y1="498" x2="663.9" y2="502" stroke="#bbb" stroke-width="1"/><line x1="722.5" y1="498" x2="722.5" y2="502" stroke="#bbb" stroke-width="1"/><line x1="781.1" y1="498" x2="781.1" y2="502" stroke="#bbb" stroke-width="1"/>
<g stroke="#b3b3b3" stroke-width="1">
<rect x="136.5" y="501.5" width="58.6" height="11" fill="#fff5eb"/>
<rect x="195.1" y="501.5" width="58.6" height="11" fill="#fee5c7"/>
<rect x="253.7" y="501.5" width="58.6" height="11" fill="#fdd29b"/>
<rect x="312.3" y="501.5" width="58.6" height="11" fill="#fdb880"/>
<rect x="370.9" y="501.5" width="58.6" height="11" fill="#fa8b59"/>
<rect x="429.5" y="501.5" width="58.6" height="11" fill="#ee6548"/>
<rect x="488.1" y="501.5" width="58.6" height="11" fill="#da3222"/>
<rect x="546.7" y="501.5" width="58.6" height="11" fill="#c41a14"/>
<rect x="605.3" y="501.5" width="58.6" height="11" fill="#b10000"/>
<rect x="663.9" y="501.5" width="58.6" height="11" fill="#990000"/>
<rect x="722.5" y="501.5" width="58.6" height="11" fill="#7f0000"/>
</g>
</svg>
<div class="lg" style="left:69px;top:483px">No data</div>
<div class="lg" style="left:129px;top:483px">0%</div>
<div class="lg" style="left:186px;top:483px">3%</div>
<div class="lg" style="left:241px;top:483px">10%</div>
<div class="lg" style="left:299px;top:483px">20%</div>
<div class="lg" style="left:358px;top:483px">30%</div>
<div class="lg" style="left:416px;top:483px">40%</div>
<div class="lg" style="left:475px;top:483px">50%</div>
<div class="lg" style="left:534px;top:483px">60%</div>
<div class="lg" style="left:592px;top:483px">70%</div>
<div class="lg" style="left:651px;top:483px">80%</div>
<div class="lg" style="left:709px;top:483px">90%</div>
<div class="lg" style="left:764px;top:483px">100%</div>
<div class="t" id="foot1"><b>Data source:</b> World Bank Poverty and Inequality Platform (2025)</div>
<div class="t" style="left:620px;top:532px;font-size:13px;color:#5b5b5b">OurWorldinData.org/poverty | CC BY</div>
<div class="t" id="foot2"><b>Note:</b> This data is expressed in international-$ at 2021 prices. Depending on the country and year, it relates to income (measured after taxes<br>and benefits) or to consumption, per capita.</div>
</body></html>
